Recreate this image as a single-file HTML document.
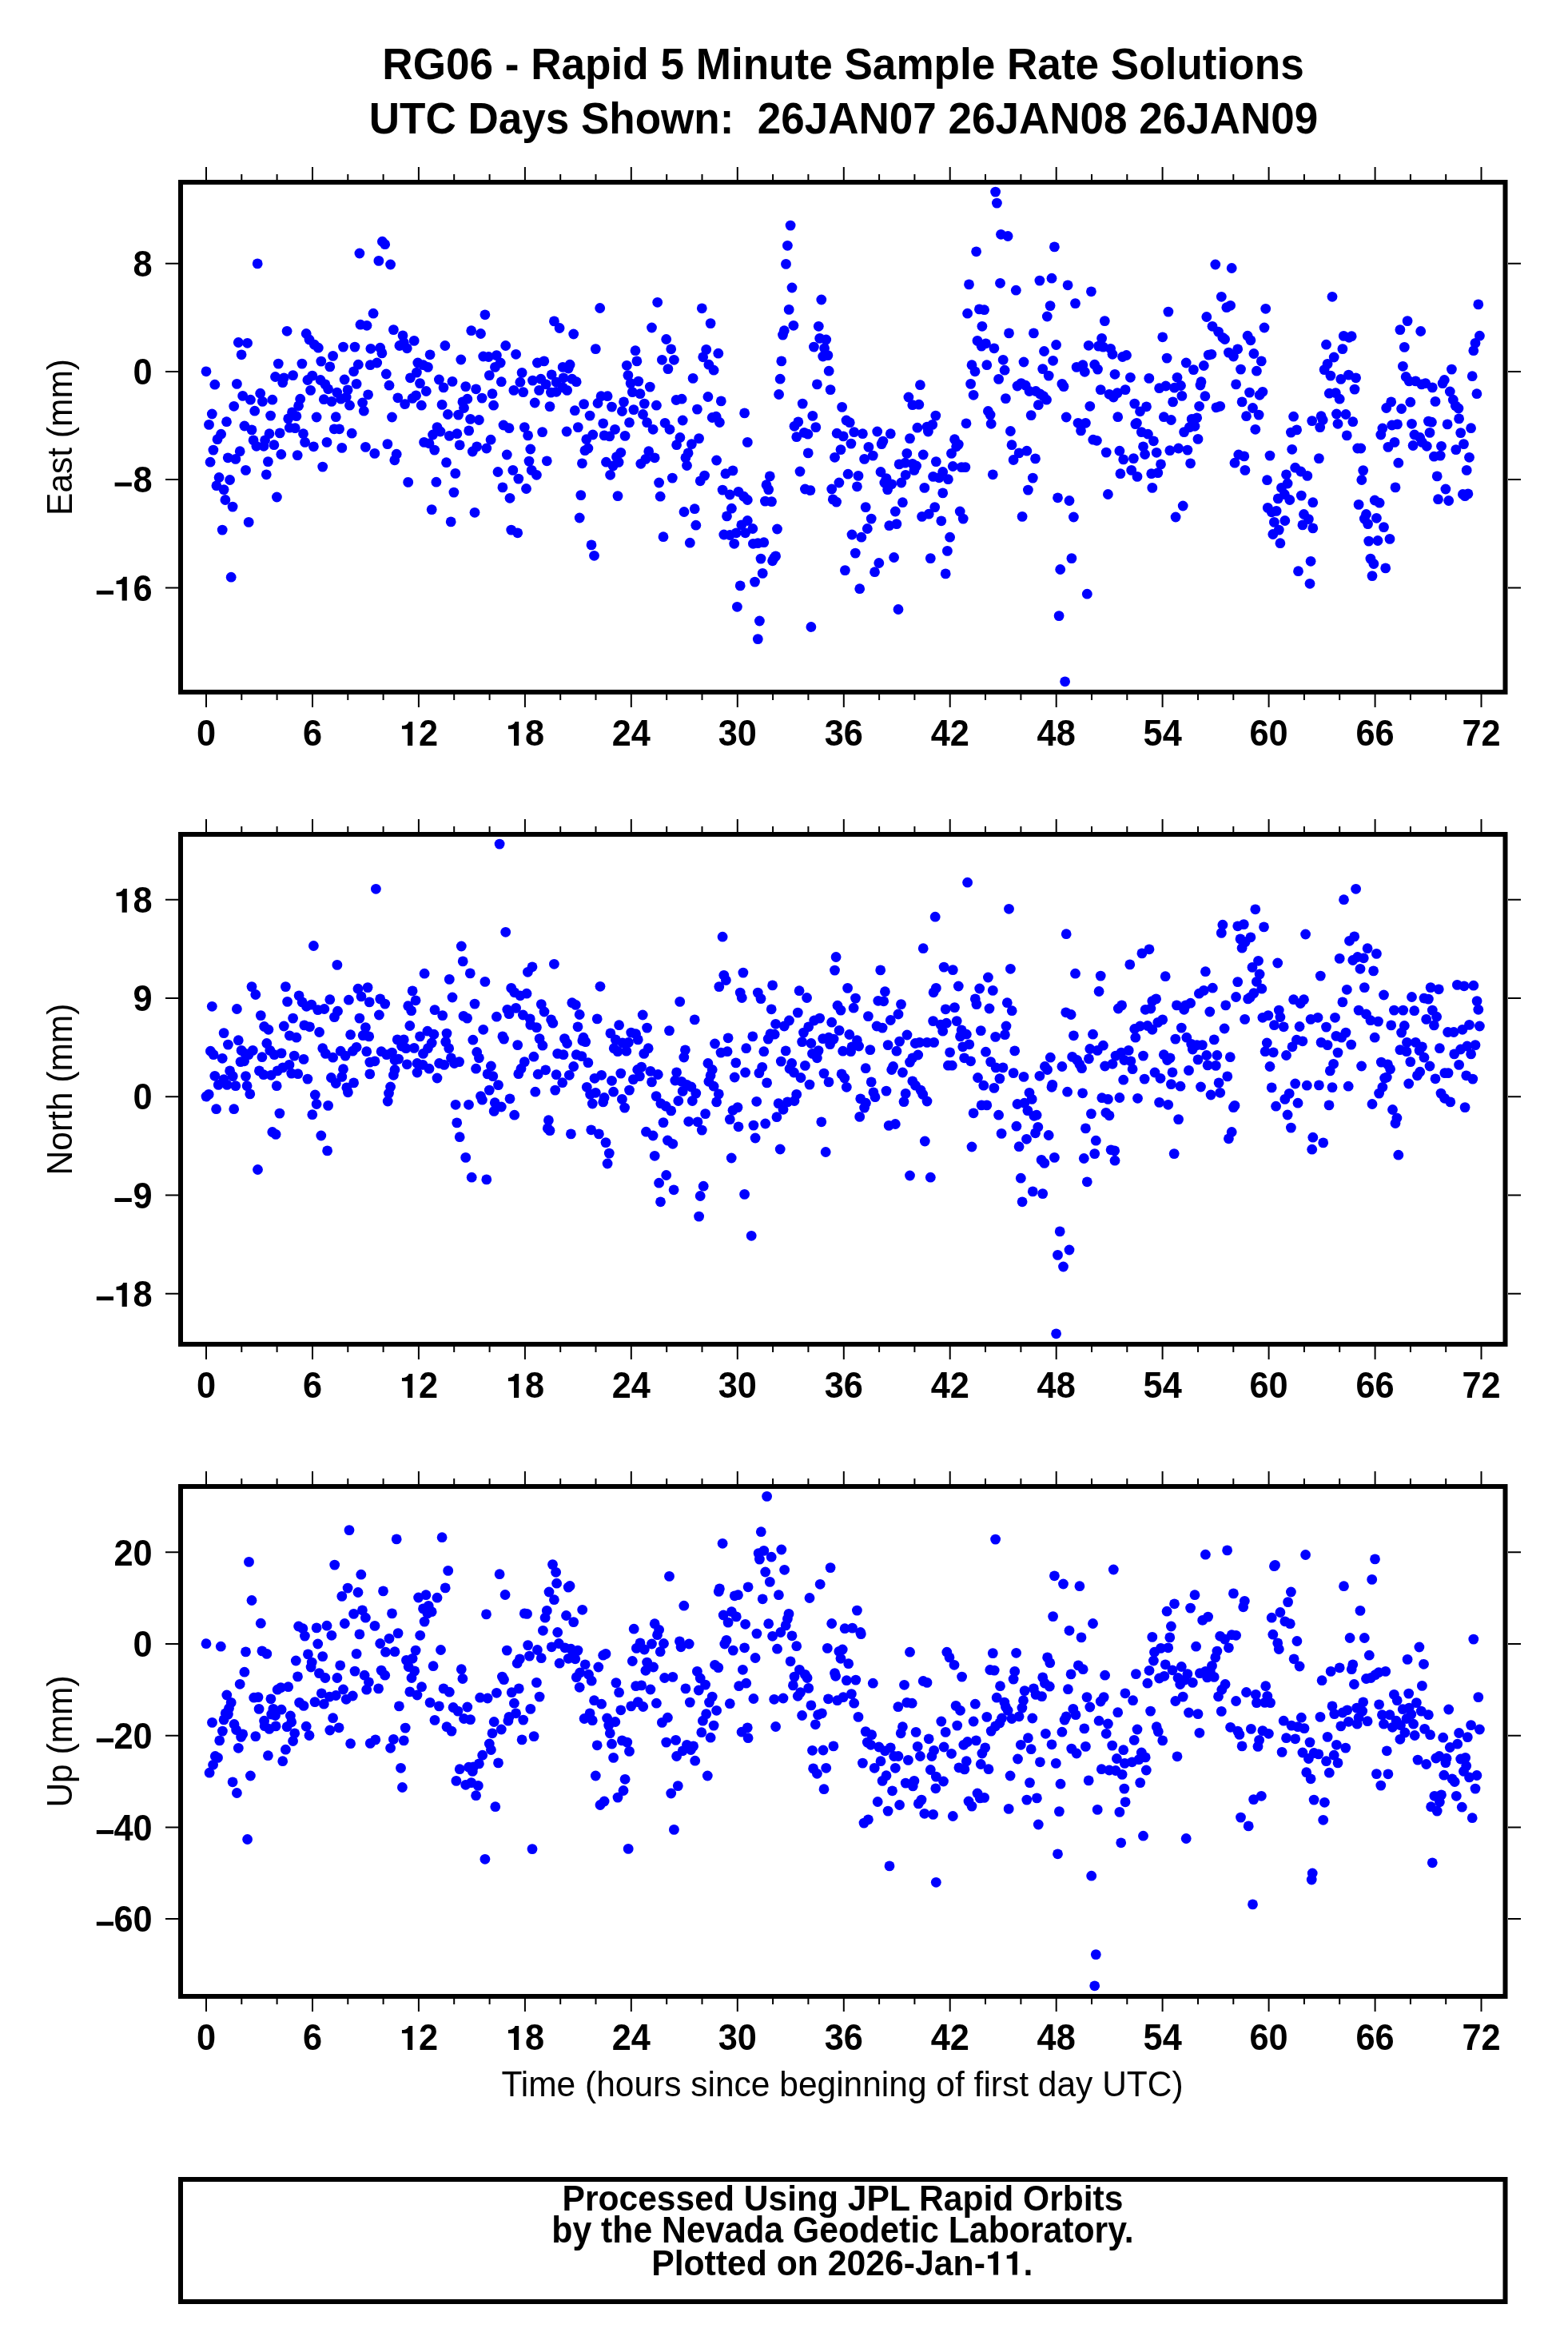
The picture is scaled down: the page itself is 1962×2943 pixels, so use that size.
<!DOCTYPE html><html><head><meta charset="utf-8"><style>html,body{margin:0;padding:0;background:#fff}svg{display:block;will-change:transform}text{font-family:"Liberation Sans",sans-serif}</style></head><body>
<svg width="1962" height="2943" viewBox="0 0 1962 2943">
<rect x="0" y="0" width="1962" height="2943" fill="#fff"/>
<text transform="translate(1055 98.9) scale(1 1.06)" font-size="53.1" font-weight="bold" text-anchor="middle">RG06 - Rapid 5 Minute Sample Rate Solutions</text>
<text transform="translate(1055.5 166.8) scale(1 1.06)" font-size="53.03" font-weight="bold" text-anchor="middle" xml:space="preserve">UTC Days Shown:  26JAN07 26JAN08 26JAN09</text>
<g fill="#0000ff"><circle cx="322.2" cy="329.9" r="6.4"/><circle cx="449.9" cy="317.0" r="6.4"/><circle cx="451.0" cy="406.2" r="6.4"/><circle cx="459.0" cy="407.3" r="6.4"/><circle cx="359.1" cy="414.3" r="6.4"/><circle cx="383.2" cy="417.5" r="6.4"/><circle cx="387.0" cy="425.0" r="6.4"/><circle cx="393.4" cy="431.2" r="6.4"/><circle cx="398.3" cy="435.2" r="6.4"/><circle cx="298.3" cy="428.5" r="6.4"/><circle cx="309.6" cy="429.3" r="6.4"/><circle cx="302.1" cy="443.8" r="6.4"/><circle cx="429.5" cy="434.1" r="6.4"/><circle cx="444.0" cy="434.1" r="6.4"/><circle cx="463.9" cy="436.3" r="6.4"/><circle cx="416.6" cy="445.4" r="6.4"/><circle cx="348.3" cy="455.1" r="6.4"/><circle cx="377.9" cy="455.1" r="6.4"/><circle cx="401.8" cy="452.1" r="6.4"/><circle cx="412.8" cy="458.9" r="6.4"/><circle cx="448.3" cy="456.2" r="6.4"/><circle cx="442.6" cy="464.8" r="6.4"/><circle cx="463.3" cy="456.7" r="6.4"/><circle cx="258.0" cy="464.8" r="6.4"/><circle cx="268.8" cy="481.2" r="6.4"/><circle cx="296.4" cy="480.4" r="6.4"/><circle cx="344.5" cy="471.5" r="6.4"/><circle cx="355.3" cy="472.8" r="6.4"/><circle cx="366.6" cy="469.6" r="6.4"/><circle cx="353.7" cy="478.7" r="6.4"/><circle cx="384.9" cy="475.5" r="6.4"/><circle cx="390.8" cy="470.1" r="6.4"/><circle cx="401.0" cy="475.5" r="6.4"/><circle cx="406.9" cy="480.9" r="6.4"/><circle cx="410.6" cy="486.8" r="6.4"/><circle cx="431.1" cy="475.0" r="6.4"/><circle cx="446.1" cy="480.4" r="6.4"/><circle cx="388.6" cy="488.4" r="6.4"/><circle cx="421.7" cy="491.1" r="6.4"/><circle cx="435.1" cy="487.9" r="6.4"/><circle cx="426.5" cy="499.2" r="6.4"/><circle cx="433.2" cy="497.0" r="6.4"/><circle cx="460.6" cy="493.8" r="6.4"/><circle cx="303.7" cy="495.4" r="6.4"/><circle cx="313.4" cy="500.2" r="6.4"/><circle cx="325.7" cy="492.2" r="6.4"/><circle cx="328.4" cy="502.4" r="6.4"/><circle cx="340.8" cy="500.2" r="6.4"/><circle cx="375.7" cy="499.2" r="6.4"/><circle cx="373.6" cy="507.8" r="6.4"/><circle cx="405.3" cy="499.7" r="6.4"/><circle cx="414.9" cy="502.4" r="6.4"/><circle cx="437.5" cy="507.2" r="6.4"/><circle cx="453.6" cy="504.0" r="6.4"/><circle cx="455.3" cy="514.2" r="6.4"/><circle cx="292.7" cy="508.3" r="6.4"/><circle cx="318.7" cy="514.2" r="6.4"/><circle cx="265.3" cy="518.0" r="6.4"/><circle cx="261.5" cy="531.4" r="6.4"/><circle cx="283.5" cy="527.7" r="6.4"/><circle cx="365.5" cy="515.8" r="6.4"/><circle cx="360.7" cy="523.9" r="6.4"/><circle cx="370.9" cy="520.7" r="6.4"/><circle cx="338.6" cy="520.1" r="6.4"/><circle cx="396.1" cy="522.0" r="6.4"/><circle cx="420.3" cy="521.7" r="6.4"/><circle cx="305.9" cy="533.0" r="6.4"/><circle cx="315.0" cy="537.9" r="6.4"/><circle cx="362.3" cy="535.2" r="6.4"/><circle cx="369.3" cy="535.7" r="6.4"/><circle cx="418.2" cy="536.8" r="6.4"/><circle cx="424.6" cy="536.8" r="6.4"/><circle cx="440.2" cy="542.2" r="6.4"/><circle cx="276.6" cy="543.2" r="6.4"/><circle cx="272.0" cy="549.7" r="6.4"/><circle cx="337.0" cy="542.7" r="6.4"/><circle cx="350.2" cy="541.9" r="6.4"/><circle cx="379.5" cy="542.7" r="6.4"/><circle cx="381.6" cy="553.4" r="6.4"/><circle cx="392.4" cy="558.8" r="6.4"/><circle cx="317.1" cy="550.8" r="6.4"/><circle cx="320.9" cy="558.3" r="6.4"/><circle cx="330.0" cy="558.3" r="6.4"/><circle cx="331.6" cy="550.8" r="6.4"/><circle cx="342.9" cy="556.7" r="6.4"/><circle cx="409.0" cy="553.4" r="6.4"/><circle cx="427.8" cy="560.4" r="6.4"/><circle cx="457.4" cy="559.4" r="6.4"/><circle cx="266.9" cy="563.1" r="6.4"/><circle cx="300.2" cy="564.7" r="6.4"/><circle cx="285.2" cy="572.8" r="6.4"/><circle cx="294.8" cy="574.4" r="6.4"/><circle cx="351.8" cy="568.5" r="6.4"/><circle cx="372.2" cy="569.6" r="6.4"/><circle cx="263.1" cy="578.2" r="6.4"/><circle cx="335.4" cy="577.6" r="6.4"/><circle cx="307.5" cy="588.4" r="6.4"/><circle cx="403.7" cy="584.1" r="6.4"/><circle cx="333.3" cy="593.8" r="6.4"/><circle cx="274.1" cy="597.5" r="6.4"/><circle cx="287.6" cy="600.5" r="6.4"/><circle cx="270.9" cy="607.7" r="6.4"/><circle cx="280.1" cy="612.6" r="6.4"/><circle cx="281.9" cy="625.5" r="6.4"/><circle cx="291.1" cy="634.1" r="6.4"/><circle cx="346.4" cy="622.0" r="6.4"/><circle cx="311.2" cy="653.4" r="6.4"/><circle cx="278.2" cy="663.1" r="6.4"/><circle cx="289.2" cy="722.2" r="6.4"/><circle cx="478.4" cy="302.2" r="6.4"/><circle cx="481.7" cy="305.7" r="6.4"/><circle cx="473.9" cy="326.4" r="6.4"/><circle cx="488.6" cy="331.0" r="6.4"/><circle cx="467.1" cy="392.2" r="6.4"/><circle cx="606.9" cy="393.8" r="6.4"/><circle cx="693.4" cy="401.9" r="6.4"/><circle cx="700.1" cy="410.5" r="6.4"/><circle cx="492.4" cy="412.6" r="6.4"/><circle cx="504.0" cy="419.9" r="6.4"/><circle cx="499.9" cy="432.5" r="6.4"/><circle cx="505.3" cy="428.5" r="6.4"/><circle cx="509.3" cy="435.8" r="6.4"/><circle cx="518.2" cy="426.4" r="6.4"/><circle cx="475.7" cy="435.2" r="6.4"/><circle cx="477.9" cy="441.9" r="6.4"/><circle cx="471.7" cy="454.0" r="6.4"/><circle cx="556.9" cy="432.5" r="6.4"/><circle cx="589.7" cy="413.7" r="6.4"/><circle cx="601.5" cy="417.5" r="6.4"/><circle cx="632.7" cy="432.5" r="6.4"/><circle cx="645.6" cy="443.3" r="6.4"/><circle cx="538.1" cy="443.8" r="6.4"/><circle cx="576.8" cy="450.0" r="6.4"/><circle cx="604.7" cy="446.0" r="6.4"/><circle cx="611.4" cy="446.5" r="6.4"/><circle cx="621.4" cy="444.6" r="6.4"/><circle cx="626.2" cy="454.0" r="6.4"/><circle cx="619.5" cy="459.4" r="6.4"/><circle cx="522.8" cy="454.0" r="6.4"/><circle cx="529.5" cy="456.7" r="6.4"/><circle cx="535.4" cy="459.4" r="6.4"/><circle cx="483.3" cy="468.0" r="6.4"/><circle cx="487.0" cy="482.2" r="6.4"/><circle cx="521.4" cy="466.1" r="6.4"/><circle cx="513.4" cy="472.8" r="6.4"/><circle cx="525.5" cy="479.6" r="6.4"/><circle cx="533.3" cy="489.5" r="6.4"/><circle cx="549.4" cy="475.0" r="6.4"/><circle cx="555.0" cy="484.9" r="6.4"/><circle cx="566.0" cy="477.4" r="6.4"/><circle cx="612.3" cy="469.6" r="6.4"/><circle cx="627.3" cy="477.7" r="6.4"/><circle cx="653.1" cy="466.4" r="6.4"/><circle cx="650.9" cy="478.2" r="6.4"/><circle cx="672.4" cy="454.0" r="6.4"/><circle cx="680.8" cy="451.9" r="6.4"/><circle cx="666.5" cy="476.1" r="6.4"/><circle cx="676.7" cy="474.2" r="6.4"/><circle cx="674.6" cy="488.4" r="6.4"/><circle cx="683.2" cy="480.9" r="6.4"/><circle cx="690.2" cy="468.8" r="6.4"/><circle cx="689.4" cy="491.1" r="6.4"/><circle cx="696.1" cy="478.2" r="6.4"/><circle cx="696.1" cy="490.3" r="6.4"/><circle cx="582.7" cy="483.6" r="6.4"/><circle cx="595.6" cy="486.8" r="6.4"/><circle cx="603.1" cy="498.1" r="6.4"/><circle cx="616.0" cy="492.7" r="6.4"/><circle cx="617.6" cy="507.2" r="6.4"/><circle cx="642.9" cy="488.4" r="6.4"/><circle cx="654.7" cy="490.6" r="6.4"/><circle cx="497.8" cy="497.8" r="6.4"/><circle cx="506.6" cy="505.6" r="6.4"/><circle cx="516.1" cy="498.4" r="6.4"/><circle cx="520.6" cy="494.9" r="6.4"/><circle cx="527.3" cy="507.2" r="6.4"/><circle cx="553.1" cy="506.4" r="6.4"/><circle cx="560.4" cy="518.5" r="6.4"/><circle cx="573.6" cy="519.1" r="6.4"/><circle cx="578.9" cy="502.9" r="6.4"/><circle cx="584.8" cy="499.2" r="6.4"/><circle cx="580.5" cy="510.5" r="6.4"/><circle cx="669.2" cy="504.0" r="6.4"/><circle cx="688.0" cy="508.6" r="6.4"/><circle cx="490.5" cy="522.0" r="6.4"/><circle cx="588.6" cy="524.4" r="6.4"/><circle cx="599.4" cy="525.5" r="6.4"/><circle cx="630.0" cy="532.0" r="6.4"/><circle cx="637.0" cy="535.7" r="6.4"/><circle cx="656.3" cy="534.6" r="6.4"/><circle cx="660.6" cy="544.9" r="6.4"/><circle cx="678.6" cy="540.6" r="6.4"/><circle cx="547.0" cy="534.6" r="6.4"/><circle cx="541.6" cy="544.0" r="6.4"/><circle cx="551.0" cy="540.0" r="6.4"/><circle cx="562.3" cy="545.4" r="6.4"/><circle cx="571.9" cy="542.7" r="6.4"/><circle cx="586.7" cy="538.9" r="6.4"/><circle cx="530.6" cy="553.4" r="6.4"/><circle cx="537.0" cy="554.8" r="6.4"/><circle cx="543.7" cy="563.1" r="6.4"/><circle cx="575.2" cy="556.9" r="6.4"/><circle cx="614.1" cy="550.2" r="6.4"/><circle cx="608.8" cy="561.0" r="6.4"/><circle cx="596.7" cy="558.8" r="6.4"/><circle cx="591.3" cy="565.0" r="6.4"/><circle cx="484.9" cy="555.6" r="6.4"/><circle cx="468.8" cy="567.4" r="6.4"/><circle cx="496.2" cy="568.2" r="6.4"/><circle cx="493.8" cy="575.8" r="6.4"/><circle cx="634.3" cy="569.0" r="6.4"/><circle cx="663.8" cy="562.0" r="6.4"/><circle cx="558.5" cy="578.7" r="6.4"/><circle cx="569.8" cy="592.4" r="6.4"/><circle cx="662.0" cy="577.1" r="6.4"/><circle cx="684.3" cy="576.8" r="6.4"/><circle cx="623.0" cy="590.5" r="6.4"/><circle cx="641.8" cy="588.4" r="6.4"/><circle cx="648.8" cy="599.1" r="6.4"/><circle cx="665.2" cy="588.4" r="6.4"/><circle cx="671.4" cy="594.3" r="6.4"/><circle cx="510.7" cy="603.4" r="6.4"/><circle cx="545.9" cy="603.2" r="6.4"/><circle cx="567.9" cy="616.1" r="6.4"/><circle cx="628.9" cy="609.9" r="6.4"/><circle cx="658.5" cy="611.5" r="6.4"/><circle cx="638.0" cy="623.3" r="6.4"/><circle cx="540.2" cy="637.6" r="6.4"/><circle cx="594.0" cy="641.3" r="6.4"/><circle cx="564.2" cy="652.9" r="6.4"/><circle cx="639.7" cy="663.1" r="6.4"/><circle cx="647.7" cy="666.8" r="6.4"/><circle cx="750.7" cy="385.5" r="6.4"/><circle cx="822.7" cy="378.3" r="6.4"/><circle cx="878.3" cy="385.8" r="6.4"/><circle cx="717.7" cy="418.0" r="6.4"/><circle cx="815.5" cy="410.0" r="6.4"/><circle cx="889.1" cy="404.6" r="6.4"/><circle cx="745.3" cy="436.6" r="6.4"/><circle cx="833.7" cy="424.5" r="6.4"/><circle cx="839.7" cy="436.8" r="6.4"/><circle cx="828.4" cy="450.3" r="6.4"/><circle cx="843.4" cy="450.3" r="6.4"/><circle cx="835.9" cy="461.6" r="6.4"/><circle cx="795.0" cy="438.7" r="6.4"/><circle cx="796.9" cy="451.9" r="6.4"/><circle cx="784.3" cy="457.3" r="6.4"/><circle cx="785.9" cy="469.6" r="6.4"/><circle cx="789.1" cy="479.6" r="6.4"/><circle cx="798.8" cy="477.1" r="6.4"/><circle cx="791.3" cy="490.6" r="6.4"/><circle cx="801.0" cy="492.7" r="6.4"/><circle cx="813.3" cy="484.1" r="6.4"/><circle cx="883.7" cy="437.4" r="6.4"/><circle cx="879.7" cy="446.8" r="6.4"/><circle cx="898.8" cy="442.2" r="6.4"/><circle cx="886.9" cy="456.2" r="6.4"/><circle cx="893.1" cy="463.2" r="6.4"/><circle cx="713.1" cy="456.2" r="6.4"/><circle cx="711.2" cy="461.0" r="6.4"/><circle cx="704.2" cy="459.4" r="6.4"/><circle cx="705.0" cy="472.8" r="6.4"/><circle cx="715.8" cy="474.2" r="6.4"/><circle cx="721.2" cy="477.7" r="6.4"/><circle cx="704.2" cy="484.9" r="6.4"/><circle cx="709.6" cy="488.4" r="6.4"/><circle cx="867.1" cy="473.4" r="6.4"/><circle cx="885.9" cy="496.5" r="6.4"/><circle cx="902.3" cy="501.9" r="6.4"/><circle cx="846.1" cy="500.5" r="6.4"/><circle cx="853.1" cy="499.2" r="6.4"/><circle cx="752.1" cy="495.7" r="6.4"/><circle cx="760.1" cy="495.7" r="6.4"/><circle cx="748.0" cy="504.5" r="6.4"/><circle cx="730.6" cy="505.6" r="6.4"/><circle cx="719.3" cy="513.7" r="6.4"/><circle cx="738.1" cy="520.1" r="6.4"/><circle cx="765.5" cy="509.1" r="6.4"/><circle cx="780.5" cy="502.9" r="6.4"/><circle cx="778.4" cy="514.5" r="6.4"/><circle cx="792.9" cy="512.6" r="6.4"/><circle cx="806.3" cy="505.1" r="6.4"/><circle cx="821.4" cy="507.2" r="6.4"/><circle cx="804.5" cy="518.5" r="6.4"/><circle cx="872.4" cy="512.1" r="6.4"/><circle cx="931.6" cy="516.9" r="6.4"/><circle cx="854.2" cy="526.0" r="6.4"/><circle cx="891.2" cy="522.5" r="6.4"/><circle cx="896.1" cy="521.2" r="6.4"/><circle cx="900.4" cy="528.5" r="6.4"/><circle cx="754.7" cy="529.8" r="6.4"/><circle cx="787.5" cy="528.7" r="6.4"/><circle cx="809.6" cy="528.7" r="6.4"/><circle cx="817.1" cy="537.3" r="6.4"/><circle cx="832.1" cy="529.3" r="6.4"/><circle cx="838.0" cy="537.3" r="6.4"/><circle cx="709.1" cy="540.0" r="6.4"/><circle cx="723.3" cy="534.6" r="6.4"/><circle cx="741.8" cy="544.0" r="6.4"/><circle cx="733.8" cy="549.7" r="6.4"/><circle cx="756.1" cy="544.9" r="6.4"/><circle cx="762.8" cy="545.9" r="6.4"/><circle cx="769.5" cy="537.3" r="6.4"/><circle cx="782.1" cy="545.4" r="6.4"/><circle cx="850.9" cy="547.5" r="6.4"/><circle cx="846.6" cy="556.7" r="6.4"/><circle cx="865.4" cy="555.6" r="6.4"/><circle cx="874.6" cy="548.6" r="6.4"/><circle cx="935.3" cy="553.4" r="6.4"/><circle cx="735.9" cy="561.0" r="6.4"/><circle cx="731.9" cy="563.7" r="6.4"/><circle cx="776.8" cy="566.3" r="6.4"/><circle cx="771.4" cy="571.7" r="6.4"/><circle cx="774.1" cy="578.4" r="6.4"/><circle cx="758.5" cy="578.2" r="6.4"/><circle cx="767.1" cy="583.0" r="6.4"/><circle cx="763.6" cy="594.3" r="6.4"/><circle cx="811.7" cy="564.7" r="6.4"/><circle cx="819.2" cy="572.8" r="6.4"/><circle cx="807.9" cy="574.4" r="6.4"/><circle cx="801.8" cy="580.3" r="6.4"/><circle cx="861.1" cy="566.9" r="6.4"/><circle cx="857.9" cy="572.8" r="6.4"/><circle cx="859.5" cy="582.5" r="6.4"/><circle cx="728.4" cy="579.8" r="6.4"/><circle cx="896.6" cy="576.0" r="6.4"/><circle cx="907.9" cy="592.7" r="6.4"/><circle cx="917.0" cy="588.9" r="6.4"/><circle cx="881.6" cy="595.1" r="6.4"/><circle cx="876.2" cy="601.8" r="6.4"/><circle cx="824.6" cy="604.0" r="6.4"/><circle cx="841.3" cy="598.1" r="6.4"/><circle cx="726.8" cy="619.6" r="6.4"/><circle cx="773.0" cy="620.6" r="6.4"/><circle cx="826.2" cy="621.2" r="6.4"/><circle cx="904.1" cy="613.1" r="6.4"/><circle cx="913.3" cy="619.0" r="6.4"/><circle cx="924.0" cy="615.3" r="6.4"/><circle cx="930.7" cy="621.2" r="6.4"/><circle cx="935.3" cy="625.5" r="6.4"/><circle cx="915.4" cy="636.2" r="6.4"/><circle cx="909.5" cy="645.9" r="6.4"/><circle cx="856.0" cy="640.5" r="6.4"/><circle cx="869.2" cy="636.7" r="6.4"/><circle cx="725.2" cy="648.0" r="6.4"/><circle cx="870.8" cy="657.2" r="6.4"/><circle cx="927.8" cy="656.9" r="6.4"/><circle cx="935.3" cy="651.5" r="6.4"/><circle cx="905.8" cy="669.0" r="6.4"/><circle cx="913.3" cy="669.5" r="6.4"/><circle cx="921.3" cy="666.8" r="6.4"/><circle cx="932.6" cy="666.8" r="6.4"/><circle cx="918.7" cy="680.3" r="6.4"/><circle cx="830.0" cy="671.7" r="6.4"/><circle cx="863.3" cy="679.2" r="6.4"/><circle cx="740.0" cy="681.9" r="6.4"/><circle cx="743.5" cy="695.3" r="6.4"/><circle cx="926.2" cy="732.9" r="6.4"/><circle cx="922.4" cy="759.3" r="6.4"/><circle cx="989.1" cy="282.1" r="6.4"/><circle cx="985.4" cy="307.3" r="6.4"/><circle cx="983.5" cy="330.4" r="6.4"/><circle cx="991.0" cy="360.0" r="6.4"/><circle cx="987.2" cy="387.4" r="6.4"/><circle cx="992.9" cy="407.3" r="6.4"/><circle cx="1027.8" cy="375.0" r="6.4"/><circle cx="1024.3" cy="408.3" r="6.4"/><circle cx="981.3" cy="413.7" r="6.4"/><circle cx="979.5" cy="419.1" r="6.4"/><circle cx="1025.7" cy="423.4" r="6.4"/><circle cx="1033.7" cy="425.0" r="6.4"/><circle cx="1018.4" cy="434.1" r="6.4"/><circle cx="1031.6" cy="435.8" r="6.4"/><circle cx="1029.7" cy="446.0" r="6.4"/><circle cx="1035.9" cy="444.6" r="6.4"/><circle cx="1037.2" cy="464.2" r="6.4"/><circle cx="977.8" cy="451.9" r="6.4"/><circle cx="976.2" cy="474.2" r="6.4"/><circle cx="974.6" cy="493.5" r="6.4"/><circle cx="1022.4" cy="480.9" r="6.4"/><circle cx="1039.1" cy="487.6" r="6.4"/><circle cx="1151.4" cy="481.7" r="6.4"/><circle cx="1136.9" cy="497.0" r="6.4"/><circle cx="1141.8" cy="506.7" r="6.4"/><circle cx="1149.8" cy="506.2" r="6.4"/><circle cx="1004.2" cy="505.1" r="6.4"/><circle cx="1053.6" cy="509.4" r="6.4"/><circle cx="1016.8" cy="520.4" r="6.4"/><circle cx="1020.8" cy="534.6" r="6.4"/><circle cx="998.8" cy="527.9" r="6.4"/><circle cx="994.0" cy="533.3" r="6.4"/><circle cx="996.7" cy="546.7" r="6.4"/><circle cx="1006.3" cy="541.4" r="6.4"/><circle cx="1010.9" cy="543.2" r="6.4"/><circle cx="1059.0" cy="526.0" r="6.4"/><circle cx="1063.3" cy="528.7" r="6.4"/><circle cx="1047.2" cy="542.2" r="6.4"/><circle cx="1055.2" cy="545.9" r="6.4"/><circle cx="1068.7" cy="540.6" r="6.4"/><circle cx="1079.4" cy="542.7" r="6.4"/><circle cx="1064.9" cy="555.1" r="6.4"/><circle cx="1097.7" cy="540.0" r="6.4"/><circle cx="1114.3" cy="542.7" r="6.4"/><circle cx="1104.9" cy="552.1" r="6.4"/><circle cx="1103.1" cy="555.6" r="6.4"/><circle cx="1170.8" cy="520.1" r="6.4"/><circle cx="1147.9" cy="535.2" r="6.4"/><circle cx="1160.0" cy="534.1" r="6.4"/><circle cx="1166.7" cy="531.4" r="6.4"/><circle cx="1161.4" cy="540.0" r="6.4"/><circle cx="1138.5" cy="548.6" r="6.4"/><circle cx="1086.9" cy="559.4" r="6.4"/><circle cx="1092.3" cy="570.1" r="6.4"/><circle cx="1081.6" cy="574.4" r="6.4"/><circle cx="1052.0" cy="562.6" r="6.4"/><circle cx="1044.5" cy="572.3" r="6.4"/><circle cx="1011.2" cy="566.9" r="6.4"/><circle cx="1134.8" cy="567.4" r="6.4"/><circle cx="1155.2" cy="569.0" r="6.4"/><circle cx="1171.3" cy="577.6" r="6.4"/><circle cx="1125.1" cy="580.9" r="6.4"/><circle cx="1132.6" cy="579.2" r="6.4"/><circle cx="1141.8" cy="580.3" r="6.4"/><circle cx="1146.6" cy="583.0" r="6.4"/><circle cx="1143.9" cy="588.4" r="6.4"/><circle cx="1001.0" cy="590.0" r="6.4"/><circle cx="1061.1" cy="593.2" r="6.4"/><circle cx="1074.0" cy="595.4" r="6.4"/><circle cx="1102.0" cy="590.5" r="6.4"/><circle cx="1109.0" cy="598.6" r="6.4"/><circle cx="1106.8" cy="604.0" r="6.4"/><circle cx="1115.7" cy="605.8" r="6.4"/><circle cx="1110.6" cy="612.6" r="6.4"/><circle cx="1127.8" cy="604.0" r="6.4"/><circle cx="1133.2" cy="594.3" r="6.4"/><circle cx="963.3" cy="595.9" r="6.4"/><circle cx="959.0" cy="606.7" r="6.4"/><circle cx="961.7" cy="612.6" r="6.4"/><circle cx="1007.4" cy="612.0" r="6.4"/><circle cx="1013.9" cy="613.6" r="6.4"/><circle cx="1049.9" cy="604.0" r="6.4"/><circle cx="1040.7" cy="612.0" r="6.4"/><circle cx="1072.4" cy="608.8" r="6.4"/><circle cx="1156.8" cy="610.4" r="6.4"/><circle cx="1167.6" cy="596.4" r="6.4"/><circle cx="957.4" cy="627.1" r="6.4"/><circle cx="965.5" cy="627.6" r="6.4"/><circle cx="1042.3" cy="624.9" r="6.4"/><circle cx="1046.6" cy="628.1" r="6.4"/><circle cx="1083.2" cy="634.6" r="6.4"/><circle cx="1090.2" cy="649.1" r="6.4"/><circle cx="1085.3" cy="661.5" r="6.4"/><circle cx="1129.4" cy="628.7" r="6.4"/><circle cx="1120.3" cy="640.0" r="6.4"/><circle cx="1121.9" cy="655.6" r="6.4"/><circle cx="1112.7" cy="657.7" r="6.4"/><circle cx="1169.7" cy="634.6" r="6.4"/><circle cx="1162.2" cy="643.2" r="6.4"/><circle cx="1153.6" cy="646.4" r="6.4"/><circle cx="941.8" cy="661.5" r="6.4"/><circle cx="972.5" cy="662.0" r="6.4"/><circle cx="1066.0" cy="669.0" r="6.4"/><circle cx="1077.8" cy="672.2" r="6.4"/><circle cx="942.4" cy="680.3" r="6.4"/><circle cx="948.3" cy="679.7" r="6.4"/><circle cx="955.8" cy="678.7" r="6.4"/><circle cx="952.0" cy="699.1" r="6.4"/><circle cx="968.7" cy="698.0" r="6.4"/><circle cx="966.6" cy="701.8" r="6.4"/><circle cx="970.6" cy="695.9" r="6.4"/><circle cx="1070.3" cy="692.1" r="6.4"/><circle cx="1118.6" cy="697.5" r="6.4"/><circle cx="1164.3" cy="698.6" r="6.4"/><circle cx="954.2" cy="717.4" r="6.4"/><circle cx="944.5" cy="728.1" r="6.4"/><circle cx="1057.4" cy="713.6" r="6.4"/><circle cx="1099.8" cy="704.5" r="6.4"/><circle cx="1094.5" cy="715.7" r="6.4"/><circle cx="1075.7" cy="736.7" r="6.4"/><circle cx="1124.0" cy="762.5" r="6.4"/><circle cx="950.4" cy="777.0" r="6.4"/><circle cx="948.3" cy="799.6" r="6.4"/><circle cx="1014.9" cy="784.5" r="6.4"/><circle cx="1245.6" cy="240.1" r="6.4"/><circle cx="1247.4" cy="254.1" r="6.4"/><circle cx="1252.5" cy="293.3" r="6.4"/><circle cx="1261.1" cy="295.5" r="6.4"/><circle cx="1221.6" cy="314.8" r="6.4"/><circle cx="1319.4" cy="308.9" r="6.4"/><circle cx="1212.5" cy="355.9" r="6.4"/><circle cx="1251.5" cy="354.3" r="6.4"/><circle cx="1271.3" cy="363.2" r="6.4"/><circle cx="1300.9" cy="351.1" r="6.4"/><circle cx="1316.0" cy="348.2" r="6.4"/><circle cx="1336.1" cy="356.8" r="6.4"/><circle cx="1365.4" cy="364.8" r="6.4"/><circle cx="1314.1" cy="382.6" r="6.4"/><circle cx="1310.3" cy="396.0" r="6.4"/><circle cx="1345.5" cy="379.6" r="6.4"/><circle cx="1210.6" cy="392.2" r="6.4"/><circle cx="1225.4" cy="386.9" r="6.4"/><circle cx="1231.6" cy="387.7" r="6.4"/><circle cx="1228.9" cy="408.3" r="6.4"/><circle cx="1262.5" cy="416.9" r="6.4"/><circle cx="1293.4" cy="416.9" r="6.4"/><circle cx="1382.3" cy="401.6" r="6.4"/><circle cx="1223.0" cy="426.4" r="6.4"/><circle cx="1228.1" cy="433.1" r="6.4"/><circle cx="1233.5" cy="429.8" r="6.4"/><circle cx="1243.9" cy="435.8" r="6.4"/><circle cx="1306.5" cy="439.5" r="6.4"/><circle cx="1321.6" cy="431.5" r="6.4"/><circle cx="1317.6" cy="451.3" r="6.4"/><circle cx="1362.2" cy="432.3" r="6.4"/><circle cx="1378.6" cy="423.4" r="6.4"/><circle cx="1374.5" cy="433.1" r="6.4"/><circle cx="1380.4" cy="434.1" r="6.4"/><circle cx="1389.6" cy="436.3" r="6.4"/><circle cx="1392.0" cy="443.3" r="6.4"/><circle cx="1404.6" cy="446.5" r="6.4"/><circle cx="1255.2" cy="450.3" r="6.4"/><circle cx="1257.1" cy="463.2" r="6.4"/><circle cx="1249.6" cy="474.4" r="6.4"/><circle cx="1234.8" cy="456.7" r="6.4"/><circle cx="1216.0" cy="456.7" r="6.4"/><circle cx="1220.0" cy="464.8" r="6.4"/><circle cx="1281.0" cy="453.0" r="6.4"/><circle cx="1304.7" cy="461.6" r="6.4"/><circle cx="1312.2" cy="470.1" r="6.4"/><circle cx="1347.1" cy="459.4" r="6.4"/><circle cx="1354.9" cy="456.7" r="6.4"/><circle cx="1357.3" cy="465.3" r="6.4"/><circle cx="1369.7" cy="456.2" r="6.4"/><circle cx="1373.5" cy="462.1" r="6.4"/><circle cx="1395.0" cy="468.3" r="6.4"/><circle cx="1214.6" cy="480.4" r="6.4"/><circle cx="1218.1" cy="494.3" r="6.4"/><circle cx="1273.0" cy="483.0" r="6.4"/><circle cx="1277.8" cy="479.6" r="6.4"/><circle cx="1283.2" cy="482.2" r="6.4"/><circle cx="1288.0" cy="489.5" r="6.4"/><circle cx="1296.1" cy="489.5" r="6.4"/><circle cx="1301.4" cy="493.0" r="6.4"/><circle cx="1305.7" cy="495.7" r="6.4"/><circle cx="1309.5" cy="500.2" r="6.4"/><circle cx="1299.3" cy="506.7" r="6.4"/><circle cx="1328.9" cy="480.4" r="6.4"/><circle cx="1331.0" cy="483.6" r="6.4"/><circle cx="1377.2" cy="487.6" r="6.4"/><circle cx="1388.0" cy="493.3" r="6.4"/><circle cx="1393.3" cy="497.0" r="6.4"/><circle cx="1398.2" cy="491.6" r="6.4"/><circle cx="1408.1" cy="487.6" r="6.4"/><circle cx="1258.4" cy="498.6" r="6.4"/><circle cx="1363.8" cy="508.3" r="6.4"/><circle cx="1236.4" cy="514.5" r="6.4"/><circle cx="1239.1" cy="519.1" r="6.4"/><circle cx="1240.2" cy="530.3" r="6.4"/><circle cx="1290.2" cy="519.6" r="6.4"/><circle cx="1334.2" cy="522.0" r="6.4"/><circle cx="1398.7" cy="521.7" r="6.4"/><circle cx="1209.0" cy="529.8" r="6.4"/><circle cx="1349.0" cy="529.3" r="6.4"/><circle cx="1358.4" cy="529.3" r="6.4"/><circle cx="1352.5" cy="538.9" r="6.4"/><circle cx="1264.4" cy="539.5" r="6.4"/><circle cx="1194.5" cy="549.7" r="6.4"/><circle cx="1199.3" cy="556.1" r="6.4"/><circle cx="1196.6" cy="558.8" r="6.4"/><circle cx="1190.5" cy="567.4" r="6.4"/><circle cx="1266.0" cy="556.7" r="6.4"/><circle cx="1275.1" cy="566.9" r="6.4"/><circle cx="1268.1" cy="575.5" r="6.4"/><circle cx="1284.8" cy="564.2" r="6.4"/><circle cx="1295.5" cy="573.9" r="6.4"/><circle cx="1367.8" cy="550.2" r="6.4"/><circle cx="1372.4" cy="551.3" r="6.4"/><circle cx="1384.2" cy="566.1" r="6.4"/><circle cx="1400.9" cy="564.2" r="6.4"/><circle cx="1405.7" cy="574.9" r="6.4"/><circle cx="1192.3" cy="583.5" r="6.4"/><circle cx="1203.1" cy="584.6" r="6.4"/><circle cx="1207.9" cy="584.6" r="6.4"/><circle cx="1179.7" cy="590.5" r="6.4"/><circle cx="1175.1" cy="597.8" r="6.4"/><circle cx="1186.4" cy="599.7" r="6.4"/><circle cx="1242.3" cy="593.8" r="6.4"/><circle cx="1292.3" cy="598.1" r="6.4"/><circle cx="1401.9" cy="592.7" r="6.4"/><circle cx="1179.7" cy="616.9" r="6.4"/><circle cx="1286.4" cy="613.1" r="6.4"/><circle cx="1323.5" cy="622.8" r="6.4"/><circle cx="1338.0" cy="626.5" r="6.4"/><circle cx="1386.4" cy="618.5" r="6.4"/><circle cx="1201.2" cy="640.0" r="6.4"/><circle cx="1205.2" cy="649.1" r="6.4"/><circle cx="1177.8" cy="651.8" r="6.4"/><circle cx="1279.1" cy="646.4" r="6.4"/><circle cx="1343.4" cy="647.0" r="6.4"/><circle cx="1188.6" cy="672.2" r="6.4"/><circle cx="1185.4" cy="689.4" r="6.4"/><circle cx="1340.9" cy="698.6" r="6.4"/><circle cx="1326.7" cy="712.5" r="6.4"/><circle cx="1183.2" cy="717.9" r="6.4"/><circle cx="1360.3" cy="743.2" r="6.4"/><circle cx="1325.1" cy="770.6" r="6.4"/><circle cx="1332.6" cy="852.8" r="6.4"/><circle cx="1520.8" cy="331.0" r="6.4"/><circle cx="1541.2" cy="335.5" r="6.4"/><circle cx="1528.3" cy="371.3" r="6.4"/><circle cx="1534.8" cy="384.7" r="6.4"/><circle cx="1539.6" cy="382.3" r="6.4"/><circle cx="1461.9" cy="390.1" r="6.4"/><circle cx="1583.7" cy="386.3" r="6.4"/><circle cx="1582.0" cy="410.0" r="6.4"/><circle cx="1509.8" cy="396.5" r="6.4"/><circle cx="1517.0" cy="408.3" r="6.4"/><circle cx="1524.5" cy="415.1" r="6.4"/><circle cx="1529.9" cy="422.3" r="6.4"/><circle cx="1532.6" cy="424.5" r="6.4"/><circle cx="1454.7" cy="421.8" r="6.4"/><circle cx="1561.1" cy="420.2" r="6.4"/><circle cx="1564.9" cy="425.8" r="6.4"/><circle cx="1460.1" cy="448.1" r="6.4"/><circle cx="1484.2" cy="454.0" r="6.4"/><circle cx="1493.4" cy="462.6" r="6.4"/><circle cx="1506.3" cy="457.5" r="6.4"/><circle cx="1512.2" cy="444.1" r="6.4"/><circle cx="1515.9" cy="443.3" r="6.4"/><circle cx="1537.4" cy="441.1" r="6.4"/><circle cx="1543.4" cy="446.0" r="6.4"/><circle cx="1548.7" cy="436.8" r="6.4"/><circle cx="1568.9" cy="442.5" r="6.4"/><circle cx="1578.3" cy="451.9" r="6.4"/><circle cx="1572.4" cy="464.2" r="6.4"/><circle cx="1552.5" cy="462.1" r="6.4"/><circle cx="1414.4" cy="472.3" r="6.4"/><circle cx="1437.8" cy="473.4" r="6.4"/><circle cx="1473.0" cy="472.3" r="6.4"/><circle cx="1477.5" cy="482.5" r="6.4"/><circle cx="1469.5" cy="485.2" r="6.4"/><circle cx="1450.6" cy="485.7" r="6.4"/><circle cx="1458.7" cy="483.0" r="6.4"/><circle cx="1503.0" cy="477.7" r="6.4"/><circle cx="1502.0" cy="482.0" r="6.4"/><circle cx="1546.6" cy="480.9" r="6.4"/><circle cx="1478.9" cy="495.4" r="6.4"/><circle cx="1467.6" cy="502.9" r="6.4"/><circle cx="1507.9" cy="495.7" r="6.4"/><circle cx="1563.5" cy="491.1" r="6.4"/><circle cx="1576.1" cy="494.3" r="6.4"/><circle cx="1579.9" cy="490.3" r="6.4"/><circle cx="1419.7" cy="505.1" r="6.4"/><circle cx="1434.5" cy="508.8" r="6.4"/><circle cx="1426.5" cy="514.8" r="6.4"/><circle cx="1500.6" cy="508.3" r="6.4"/><circle cx="1521.9" cy="509.9" r="6.4"/><circle cx="1526.7" cy="508.3" r="6.4"/><circle cx="1554.1" cy="502.9" r="6.4"/><circle cx="1567.5" cy="510.5" r="6.4"/><circle cx="1575.1" cy="519.1" r="6.4"/><circle cx="1559.5" cy="520.7" r="6.4"/><circle cx="1618.6" cy="521.2" r="6.4"/><circle cx="1641.7" cy="526.6" r="6.4"/><circle cx="1456.3" cy="521.7" r="6.4"/><circle cx="1465.4" cy="525.5" r="6.4"/><circle cx="1491.2" cy="524.4" r="6.4"/><circle cx="1497.7" cy="522.8" r="6.4"/><circle cx="1495.0" cy="533.3" r="6.4"/><circle cx="1488.3" cy="534.6" r="6.4"/><circle cx="1481.6" cy="540.6" r="6.4"/><circle cx="1422.4" cy="529.3" r="6.4"/><circle cx="1420.8" cy="530.6" r="6.4"/><circle cx="1428.3" cy="540.6" r="6.4"/><circle cx="1436.4" cy="543.2" r="6.4"/><circle cx="1443.4" cy="551.8" r="6.4"/><circle cx="1570.8" cy="537.3" r="6.4"/><circle cx="1615.4" cy="541.1" r="6.4"/><circle cx="1622.6" cy="537.9" r="6.4"/><circle cx="1499.0" cy="549.4" r="6.4"/><circle cx="1430.5" cy="558.8" r="6.4"/><circle cx="1432.6" cy="568.5" r="6.4"/><circle cx="1447.2" cy="566.3" r="6.4"/><circle cx="1463.8" cy="563.7" r="6.4"/><circle cx="1474.6" cy="561.0" r="6.4"/><circle cx="1485.9" cy="563.1" r="6.4"/><circle cx="1616.7" cy="562.3" r="6.4"/><circle cx="1549.8" cy="569.0" r="6.4"/><circle cx="1556.8" cy="570.9" r="6.4"/><circle cx="1545.0" cy="579.2" r="6.4"/><circle cx="1557.9" cy="588.4" r="6.4"/><circle cx="1589.0" cy="570.1" r="6.4"/><circle cx="1418.4" cy="573.6" r="6.4"/><circle cx="1415.7" cy="588.4" r="6.4"/><circle cx="1423.0" cy="596.4" r="6.4"/><circle cx="1452.5" cy="580.9" r="6.4"/><circle cx="1448.8" cy="591.6" r="6.4"/><circle cx="1440.7" cy="592.7" r="6.4"/><circle cx="1489.6" cy="579.8" r="6.4"/><circle cx="1441.8" cy="610.4" r="6.4"/><circle cx="1620.7" cy="585.2" r="6.4"/><circle cx="1627.7" cy="590.0" r="6.4"/><circle cx="1635.8" cy="595.4" r="6.4"/><circle cx="1609.5" cy="593.8" r="6.4"/><circle cx="1611.1" cy="605.0" r="6.4"/><circle cx="1603.5" cy="610.4" r="6.4"/><circle cx="1607.3" cy="618.5" r="6.4"/><circle cx="1599.2" cy="623.9" r="6.4"/><circle cx="1613.8" cy="625.5" r="6.4"/><circle cx="1585.5" cy="600.7" r="6.4"/><circle cx="1628.3" cy="620.1" r="6.4"/><circle cx="1642.8" cy="628.7" r="6.4"/><circle cx="1480.2" cy="633.0" r="6.4"/><circle cx="1471.1" cy="647.0" r="6.4"/><circle cx="1586.3" cy="635.4" r="6.4"/><circle cx="1591.2" cy="640.8" r="6.4"/><circle cx="1597.1" cy="639.4" r="6.4"/><circle cx="1594.4" cy="653.4" r="6.4"/><circle cx="1607.8" cy="651.5" r="6.4"/><circle cx="1600.3" cy="663.1" r="6.4"/><circle cx="1592.8" cy="668.5" r="6.4"/><circle cx="1631.5" cy="643.5" r="6.4"/><circle cx="1637.4" cy="649.6" r="6.4"/><circle cx="1629.9" cy="656.9" r="6.4"/><circle cx="1642.8" cy="660.9" r="6.4"/><circle cx="1601.9" cy="679.7" r="6.4"/><circle cx="1640.1" cy="702.3" r="6.4"/><circle cx="1624.5" cy="714.7" r="6.4"/><circle cx="1639.0" cy="730.3" r="6.4"/><circle cx="1667.0" cy="371.3" r="6.4"/><circle cx="1849.8" cy="380.9" r="6.4"/><circle cx="1761.1" cy="401.6" r="6.4"/><circle cx="1751.9" cy="412.6" r="6.4"/><circle cx="1777.7" cy="414.5" r="6.4"/><circle cx="1851.4" cy="420.2" r="6.4"/><circle cx="1846.0" cy="429.3" r="6.4"/><circle cx="1843.8" cy="438.7" r="6.4"/><circle cx="1659.5" cy="431.2" r="6.4"/><circle cx="1681.3" cy="420.4" r="6.4"/><circle cx="1688.0" cy="422.3" r="6.4"/><circle cx="1691.2" cy="420.7" r="6.4"/><circle cx="1679.9" cy="436.6" r="6.4"/><circle cx="1757.3" cy="434.4" r="6.4"/><circle cx="1755.4" cy="458.3" r="6.4"/><circle cx="1669.2" cy="447.0" r="6.4"/><circle cx="1661.1" cy="455.4" r="6.4"/><circle cx="1657.1" cy="462.6" r="6.4"/><circle cx="1664.9" cy="470.1" r="6.4"/><circle cx="1677.8" cy="474.4" r="6.4"/><circle cx="1687.5" cy="469.1" r="6.4"/><circle cx="1696.6" cy="472.8" r="6.4"/><circle cx="1695.0" cy="487.1" r="6.4"/><circle cx="1816.4" cy="462.1" r="6.4"/><circle cx="1842.2" cy="470.7" r="6.4"/><circle cx="1847.9" cy="492.7" r="6.4"/><circle cx="1759.2" cy="471.5" r="6.4"/><circle cx="1763.2" cy="476.9" r="6.4"/><circle cx="1771.3" cy="476.9" r="6.4"/><circle cx="1778.8" cy="480.9" r="6.4"/><circle cx="1783.7" cy="479.6" r="6.4"/><circle cx="1792.3" cy="484.9" r="6.4"/><circle cx="1807.3" cy="475.5" r="6.4"/><circle cx="1805.1" cy="479.6" r="6.4"/><circle cx="1814.3" cy="490.0" r="6.4"/><circle cx="1818.3" cy="500.2" r="6.4"/><circle cx="1821.3" cy="507.8" r="6.4"/><circle cx="1825.0" cy="511.0" r="6.4"/><circle cx="1663.3" cy="492.2" r="6.4"/><circle cx="1671.3" cy="491.6" r="6.4"/><circle cx="1676.2" cy="499.2" r="6.4"/><circle cx="1740.7" cy="502.9" r="6.4"/><circle cx="1734.7" cy="510.5" r="6.4"/><circle cx="1753.6" cy="511.5" r="6.4"/><circle cx="1764.8" cy="503.2" r="6.4"/><circle cx="1796.0" cy="502.4" r="6.4"/><circle cx="1653.1" cy="520.7" r="6.4"/><circle cx="1655.2" cy="525.5" r="6.4"/><circle cx="1651.7" cy="534.6" r="6.4"/><circle cx="1672.4" cy="518.0" r="6.4"/><circle cx="1684.0" cy="518.5" r="6.4"/><circle cx="1674.0" cy="530.3" r="6.4"/><circle cx="1692.8" cy="527.7" r="6.4"/><circle cx="1685.3" cy="544.9" r="6.4"/><circle cx="1825.6" cy="523.9" r="6.4"/><circle cx="1840.6" cy="535.7" r="6.4"/><circle cx="1811.1" cy="530.9" r="6.4"/><circle cx="1827.7" cy="541.6" r="6.4"/><circle cx="1787.4" cy="527.1" r="6.4"/><circle cx="1791.4" cy="528.2" r="6.4"/><circle cx="1789.0" cy="541.4" r="6.4"/><circle cx="1766.5" cy="530.3" r="6.4"/><circle cx="1741.7" cy="532.0" r="6.4"/><circle cx="1748.5" cy="530.9" r="6.4"/><circle cx="1729.9" cy="536.0" r="6.4"/><circle cx="1727.8" cy="544.0" r="6.4"/><circle cx="1769.9" cy="544.0" r="6.4"/><circle cx="1776.7" cy="547.5" r="6.4"/><circle cx="1768.1" cy="557.5" r="6.4"/><circle cx="1779.4" cy="553.4" r="6.4"/><circle cx="1785.3" cy="558.3" r="6.4"/><circle cx="1745.0" cy="553.4" r="6.4"/><circle cx="1736.9" cy="559.4" r="6.4"/><circle cx="1803.5" cy="558.3" r="6.4"/><circle cx="1794.4" cy="571.2" r="6.4"/><circle cx="1802.2" cy="570.1" r="6.4"/><circle cx="1821.8" cy="562.6" r="6.4"/><circle cx="1831.5" cy="555.6" r="6.4"/><circle cx="1698.7" cy="561.0" r="6.4"/><circle cx="1702.8" cy="561.0" r="6.4"/><circle cx="1650.4" cy="573.6" r="6.4"/><circle cx="1749.8" cy="579.2" r="6.4"/><circle cx="1838.5" cy="572.3" r="6.4"/><circle cx="1705.7" cy="588.6" r="6.4"/><circle cx="1703.8" cy="600.5" r="6.4"/><circle cx="1798.2" cy="595.9" r="6.4"/><circle cx="1835.2" cy="588.4" r="6.4"/><circle cx="1746.0" cy="609.9" r="6.4"/><circle cx="1808.9" cy="612.0" r="6.4"/><circle cx="1799.5" cy="624.7" r="6.4"/><circle cx="1812.7" cy="626.5" r="6.4"/><circle cx="1830.4" cy="618.5" r="6.4"/><circle cx="1836.9" cy="617.9" r="6.4"/><circle cx="1833.1" cy="620.6" r="6.4"/><circle cx="1700.1" cy="631.4" r="6.4"/><circle cx="1720.2" cy="626.0" r="6.4"/><circle cx="1726.1" cy="629.2" r="6.4"/><circle cx="1709.5" cy="643.5" r="6.4"/><circle cx="1707.3" cy="649.1" r="6.4"/><circle cx="1711.6" cy="655.6" r="6.4"/><circle cx="1722.4" cy="648.3" r="6.4"/><circle cx="1731.5" cy="659.6" r="6.4"/><circle cx="1712.7" cy="677.1" r="6.4"/><circle cx="1724.0" cy="676.5" r="6.4"/><circle cx="1739.0" cy="674.4" r="6.4"/><circle cx="1714.9" cy="699.1" r="6.4"/><circle cx="1718.9" cy="705.5" r="6.4"/><circle cx="1733.7" cy="710.9" r="6.4"/><circle cx="1717.0" cy="720.6" r="6.4"/><circle cx="1409.5" cy="444.5" r="6.4"/></g>
<path d="M258.0 225V209M258.0 869V885M302.3 225V218M302.3 869V876M346.6 225V218M346.6 869V876M391.0 225V209M391.0 869V885M435.3 225V218M435.3 869V876M479.6 225V218M479.6 869V876M523.9 225V209M523.9 869V885M568.2 225V218M568.2 869V876M612.6 225V218M612.6 869V876M656.9 225V209M656.9 869V885M701.2 225V218M701.2 869V876M745.5 225V218M745.5 869V876M789.8 225V209M789.8 869V885M834.2 225V218M834.2 869V876M878.5 225V218M878.5 869V876M922.8 225V209M922.8 869V885M967.1 225V218M967.1 869V876M1011.4 225V218M1011.4 869V876M1055.8 225V209M1055.8 869V885M1100.1 225V218M1100.1 869V876M1144.4 225V218M1144.4 869V876M1188.7 225V209M1188.7 869V885M1233.0 225V218M1233.0 869V876M1277.4 225V218M1277.4 869V876M1321.7 225V209M1321.7 869V885M1366.0 225V218M1366.0 869V876M1410.3 225V218M1410.3 869V876M1454.6 225V209M1454.6 869V885M1499.0 225V218M1499.0 869V876M1543.3 225V218M1543.3 869V876M1587.6 225V209M1587.6 869V885M1631.9 225V218M1631.9 869V876M1676.2 225V218M1676.2 869V876M1720.6 225V209M1720.6 869V885M1764.9 225V218M1764.9 869V876M1809.2 225V218M1809.2 869V876M1853.5 225V209M1853.5 869V885M223 329.7H207M1887 329.7H1903M223 464.9H207M1887 464.9H1903M223 600.1H207M1887 600.1H1903M223 735.4H207M1887 735.4H1903" stroke="#000" stroke-width="2" fill="none"/>
<rect x="226" y="228" width="1657.5" height="638.0" fill="none" stroke="#000" stroke-width="6"/>
<text transform="translate(245.96 932.90) scale(1 1.06)" font-size="43.3" font-weight="bold">0</text>
<text transform="translate(378.92 932.90) scale(1 1.06)" font-size="43.3" font-weight="bold">6</text>
<path transform="translate(499.84 932.90) scale(43.3 -45.898)" d="M0.236 0L0.378 0L0.378 0.65L0.27 0.65C0.252 0.588 0.19 0.545 0.072 0.541L0.072 0.45L0.236 0.45Z"/><text transform="translate(523.92 932.90) scale(1 1.06)" font-size="43.3" font-weight="bold">2</text>
<path transform="translate(632.80 932.90) scale(43.3 -45.898)" d="M0.236 0L0.378 0L0.378 0.65L0.27 0.65C0.252 0.588 0.19 0.545 0.072 0.541L0.072 0.45L0.236 0.45Z"/><text transform="translate(656.88 932.90) scale(1 1.06)" font-size="43.3" font-weight="bold">8</text>
<text transform="translate(765.76 932.90) scale(1 1.06)" font-size="43.3" font-weight="bold">24</text>
<text transform="translate(898.72 932.90) scale(1 1.06)" font-size="43.3" font-weight="bold">30</text>
<text transform="translate(1031.68 932.90) scale(1 1.06)" font-size="43.3" font-weight="bold">36</text>
<text transform="translate(1164.64 932.90) scale(1 1.06)" font-size="43.3" font-weight="bold">42</text>
<text transform="translate(1297.60 932.90) scale(1 1.06)" font-size="43.3" font-weight="bold">48</text>
<text transform="translate(1430.56 932.90) scale(1 1.06)" font-size="43.3" font-weight="bold">54</text>
<text transform="translate(1563.52 932.90) scale(1 1.06)" font-size="43.3" font-weight="bold">60</text>
<text transform="translate(1696.48 932.90) scale(1 1.06)" font-size="43.3" font-weight="bold">66</text>
<text transform="translate(1829.44 932.90) scale(1 1.06)" font-size="43.3" font-weight="bold">72</text>
<text transform="translate(166.52 345.87) scale(1 1.06)" font-size="43.3" font-weight="bold">8</text>
<text transform="translate(166.52 481.10) scale(1 1.06)" font-size="43.3" font-weight="bold">0</text>
<text transform="translate(166.52 616.33) scale(1 1.06)" font-size="43.3" font-weight="bold">8</text>
<rect x="143.6" y="603.7" width="21.2" height="4.9"/>
<path transform="translate(142.44 751.56) scale(43.3 -45.898)" d="M0.236 0L0.378 0L0.378 0.65L0.27 0.65C0.252 0.588 0.19 0.545 0.072 0.541L0.072 0.45L0.236 0.45Z"/><text transform="translate(166.52 751.56) scale(1 1.06)" font-size="43.3" font-weight="bold">6</text>
<rect x="120.8" y="739.0" width="21.2" height="4.9"/>
<text transform="translate(90 547.0) rotate(-90) scale(1 1.06)" font-size="42.5" text-anchor="middle">East (mm)</text>
<g fill="#0000ff"><circle cx="392.4" cy="1183.5" r="6.4"/><circle cx="421.9" cy="1207.4" r="6.4"/><circle cx="315.0" cy="1234.6" r="6.4"/><circle cx="319.8" cy="1244.5" r="6.4"/><circle cx="357.4" cy="1234.6" r="6.4"/><circle cx="265.3" cy="1259.3" r="6.4"/><circle cx="296.4" cy="1262.5" r="6.4"/><circle cx="359.6" cy="1253.4" r="6.4"/><circle cx="374.1" cy="1245.8" r="6.4"/><circle cx="378.1" cy="1253.9" r="6.4"/><circle cx="383.5" cy="1259.3" r="6.4"/><circle cx="389.7" cy="1257.1" r="6.4"/><circle cx="397.7" cy="1263.6" r="6.4"/><circle cx="405.8" cy="1262.5" r="6.4"/><circle cx="412.8" cy="1250.7" r="6.4"/><circle cx="436.4" cy="1251.2" r="6.4"/><circle cx="448.0" cy="1237.2" r="6.4"/><circle cx="460.1" cy="1235.6" r="6.4"/><circle cx="452.0" cy="1246.9" r="6.4"/><circle cx="462.2" cy="1253.9" r="6.4"/><circle cx="422.5" cy="1265.2" r="6.4"/><circle cx="418.4" cy="1272.7" r="6.4"/><circle cx="326.3" cy="1270.6" r="6.4"/><circle cx="366.6" cy="1274.1" r="6.4"/><circle cx="330.6" cy="1284.5" r="6.4"/><circle cx="335.9" cy="1288.3" r="6.4"/><circle cx="355.3" cy="1284.0" r="6.4"/><circle cx="380.8" cy="1282.9" r="6.4"/><circle cx="387.5" cy="1284.8" r="6.4"/><circle cx="399.6" cy="1291.5" r="6.4"/><circle cx="449.9" cy="1274.1" r="6.4"/><circle cx="457.4" cy="1285.6" r="6.4"/><circle cx="454.2" cy="1295.6" r="6.4"/><circle cx="461.7" cy="1296.9" r="6.4"/><circle cx="438.6" cy="1294.7" r="6.4"/><circle cx="280.1" cy="1292.6" r="6.4"/><circle cx="298.3" cy="1301.7" r="6.4"/><circle cx="362.3" cy="1295.8" r="6.4"/><circle cx="370.9" cy="1298.2" r="6.4"/><circle cx="285.4" cy="1307.1" r="6.4"/><circle cx="333.8" cy="1305.5" r="6.4"/><circle cx="263.4" cy="1315.2" r="6.4"/><circle cx="267.2" cy="1319.7" r="6.4"/><circle cx="278.2" cy="1324.3" r="6.4"/><circle cx="302.1" cy="1314.4" r="6.4"/><circle cx="306.9" cy="1318.4" r="6.4"/><circle cx="316.3" cy="1314.4" r="6.4"/><circle cx="311.0" cy="1319.7" r="6.4"/><circle cx="301.0" cy="1328.6" r="6.4"/><circle cx="305.6" cy="1327.8" r="6.4"/><circle cx="337.8" cy="1314.4" r="6.4"/><circle cx="343.2" cy="1319.7" r="6.4"/><circle cx="352.1" cy="1317.9" r="6.4"/><circle cx="327.9" cy="1322.7" r="6.4"/><circle cx="368.2" cy="1321.1" r="6.4"/><circle cx="380.0" cy="1325.4" r="6.4"/><circle cx="403.7" cy="1311.7" r="6.4"/><circle cx="407.4" cy="1318.4" r="6.4"/><circle cx="416.6" cy="1323.2" r="6.4"/><circle cx="426.2" cy="1315.2" r="6.4"/><circle cx="432.1" cy="1321.1" r="6.4"/><circle cx="441.3" cy="1315.2" r="6.4"/><circle cx="446.1" cy="1310.3" r="6.4"/><circle cx="458.7" cy="1315.7" r="6.4"/><circle cx="462.8" cy="1329.1" r="6.4"/><circle cx="462.8" cy="1343.9" r="6.4"/><circle cx="324.4" cy="1339.9" r="6.4"/><circle cx="329.8" cy="1344.7" r="6.4"/><circle cx="339.2" cy="1345.3" r="6.4"/><circle cx="347.2" cy="1339.9" r="6.4"/><circle cx="353.9" cy="1335.9" r="6.4"/><circle cx="362.0" cy="1332.4" r="6.4"/><circle cx="364.7" cy="1343.1" r="6.4"/><circle cx="372.8" cy="1343.7" r="6.4"/><circle cx="287.6" cy="1339.9" r="6.4"/><circle cx="291.3" cy="1346.6" r="6.4"/><circle cx="268.8" cy="1346.3" r="6.4"/><circle cx="280.1" cy="1350.6" r="6.4"/><circle cx="273.3" cy="1357.4" r="6.4"/><circle cx="284.1" cy="1357.4" r="6.4"/><circle cx="294.8" cy="1358.7" r="6.4"/><circle cx="307.5" cy="1346.6" r="6.4"/><circle cx="309.1" cy="1358.7" r="6.4"/><circle cx="312.8" cy="1368.9" r="6.4"/><circle cx="346.2" cy="1358.7" r="6.4"/><circle cx="384.9" cy="1350.1" r="6.4"/><circle cx="414.4" cy="1348.5" r="6.4"/><circle cx="420.3" cy="1355.5" r="6.4"/><circle cx="427.8" cy="1347.4" r="6.4"/><circle cx="429.5" cy="1337.7" r="6.4"/><circle cx="442.6" cy="1354.9" r="6.4"/><circle cx="433.8" cy="1360.9" r="6.4"/><circle cx="435.4" cy="1366.8" r="6.4"/><circle cx="258.0" cy="1372.1" r="6.4"/><circle cx="261.2" cy="1369.4" r="6.4"/><circle cx="394.3" cy="1370.0" r="6.4"/><circle cx="396.1" cy="1381.5" r="6.4"/><circle cx="410.6" cy="1383.4" r="6.4"/><circle cx="390.8" cy="1394.7" r="6.4"/><circle cx="270.6" cy="1387.7" r="6.4"/><circle cx="292.7" cy="1387.7" r="6.4"/><circle cx="349.9" cy="1393.1" r="6.4"/><circle cx="340.8" cy="1416.5" r="6.4"/><circle cx="345.1" cy="1419.4" r="6.4"/><circle cx="401.8" cy="1421.0" r="6.4"/><circle cx="409.6" cy="1439.9" r="6.4"/><circle cx="322.5" cy="1463.5" r="6.4"/><circle cx="625.1" cy="1056.1" r="6.4"/><circle cx="470.4" cy="1112.3" r="6.4"/><circle cx="632.7" cy="1166.3" r="6.4"/><circle cx="577.3" cy="1184.0" r="6.4"/><circle cx="579.2" cy="1202.9" r="6.4"/><circle cx="588.3" cy="1217.9" r="6.4"/><circle cx="606.9" cy="1228.4" r="6.4"/><circle cx="531.1" cy="1218.2" r="6.4"/><circle cx="562.3" cy="1225.4" r="6.4"/><circle cx="566.0" cy="1248.0" r="6.4"/><circle cx="693.4" cy="1206.3" r="6.4"/><circle cx="666.0" cy="1209.8" r="6.4"/><circle cx="660.4" cy="1216.3" r="6.4"/><circle cx="475.7" cy="1249.9" r="6.4"/><circle cx="481.7" cy="1256.1" r="6.4"/><circle cx="474.4" cy="1270.0" r="6.4"/><circle cx="516.1" cy="1239.9" r="6.4"/><circle cx="520.1" cy="1251.8" r="6.4"/><circle cx="510.7" cy="1258.7" r="6.4"/><circle cx="514.7" cy="1264.7" r="6.4"/><circle cx="639.7" cy="1236.4" r="6.4"/><circle cx="643.7" cy="1241.8" r="6.4"/><circle cx="650.9" cy="1245.8" r="6.4"/><circle cx="659.0" cy="1243.2" r="6.4"/><circle cx="594.0" cy="1256.1" r="6.4"/><circle cx="621.4" cy="1272.2" r="6.4"/><circle cx="544.0" cy="1263.6" r="6.4"/><circle cx="553.7" cy="1270.6" r="6.4"/><circle cx="580.0" cy="1271.4" r="6.4"/><circle cx="584.6" cy="1274.1" r="6.4"/><circle cx="634.8" cy="1263.3" r="6.4"/><circle cx="637.0" cy="1268.7" r="6.4"/><circle cx="645.6" cy="1261.4" r="6.4"/><circle cx="654.4" cy="1270.0" r="6.4"/><circle cx="663.3" cy="1274.9" r="6.4"/><circle cx="663.8" cy="1282.4" r="6.4"/><circle cx="671.4" cy="1285.6" r="6.4"/><circle cx="677.3" cy="1256.6" r="6.4"/><circle cx="681.0" cy="1266.0" r="6.4"/><circle cx="689.6" cy="1275.9" r="6.4"/><circle cx="691.8" cy="1280.2" r="6.4"/><circle cx="512.8" cy="1283.5" r="6.4"/><circle cx="534.9" cy="1290.2" r="6.4"/><circle cx="542.9" cy="1294.2" r="6.4"/><circle cx="525.5" cy="1296.9" r="6.4"/><circle cx="540.2" cy="1305.0" r="6.4"/><circle cx="535.4" cy="1311.7" r="6.4"/><circle cx="529.5" cy="1318.4" r="6.4"/><circle cx="559.0" cy="1293.1" r="6.4"/><circle cx="557.7" cy="1303.6" r="6.4"/><circle cx="561.7" cy="1311.7" r="6.4"/><circle cx="604.7" cy="1288.3" r="6.4"/><circle cx="591.8" cy="1301.2" r="6.4"/><circle cx="628.9" cy="1296.9" r="6.4"/><circle cx="630.5" cy="1300.1" r="6.4"/><circle cx="675.1" cy="1299.6" r="6.4"/><circle cx="678.9" cy="1308.2" r="6.4"/><circle cx="647.7" cy="1307.6" r="6.4"/><circle cx="497.2" cy="1300.9" r="6.4"/><circle cx="505.3" cy="1300.9" r="6.4"/><circle cx="502.6" cy="1309.0" r="6.4"/><circle cx="508.0" cy="1311.7" r="6.4"/><circle cx="518.2" cy="1311.4" r="6.4"/><circle cx="477.1" cy="1315.7" r="6.4"/><circle cx="483.8" cy="1319.7" r="6.4"/><circle cx="490.5" cy="1317.1" r="6.4"/><circle cx="498.6" cy="1325.1" r="6.4"/><circle cx="494.0" cy="1326.5" r="6.4"/><circle cx="469.0" cy="1327.8" r="6.4"/><circle cx="596.7" cy="1316.5" r="6.4"/><circle cx="599.4" cy="1323.8" r="6.4"/><circle cx="697.7" cy="1318.4" r="6.4"/><circle cx="667.9" cy="1322.2" r="6.4"/><circle cx="509.3" cy="1331.8" r="6.4"/><circle cx="522.0" cy="1330.5" r="6.4"/><circle cx="529.0" cy="1332.4" r="6.4"/><circle cx="537.0" cy="1337.2" r="6.4"/><circle cx="522.0" cy="1342.0" r="6.4"/><circle cx="549.6" cy="1330.5" r="6.4"/><circle cx="555.8" cy="1332.4" r="6.4"/><circle cx="564.4" cy="1323.8" r="6.4"/><circle cx="568.5" cy="1330.5" r="6.4"/><circle cx="574.6" cy="1328.6" r="6.4"/><circle cx="547.0" cy="1349.0" r="6.4"/><circle cx="494.0" cy="1338.5" r="6.4"/><circle cx="492.4" cy="1345.3" r="6.4"/><circle cx="595.6" cy="1337.2" r="6.4"/><circle cx="614.4" cy="1334.0" r="6.4"/><circle cx="610.1" cy="1343.9" r="6.4"/><circle cx="616.8" cy="1346.6" r="6.4"/><circle cx="656.3" cy="1328.6" r="6.4"/><circle cx="652.0" cy="1337.2" r="6.4"/><circle cx="648.8" cy="1343.7" r="6.4"/><circle cx="673.2" cy="1344.2" r="6.4"/><circle cx="682.7" cy="1338.8" r="6.4"/><circle cx="696.1" cy="1344.7" r="6.4"/><circle cx="623.5" cy="1357.6" r="6.4"/><circle cx="612.3" cy="1364.1" r="6.4"/><circle cx="488.6" cy="1360.0" r="6.4"/><circle cx="486.5" cy="1368.1" r="6.4"/><circle cx="485.2" cy="1378.0" r="6.4"/><circle cx="669.8" cy="1366.2" r="6.4"/><circle cx="694.7" cy="1364.1" r="6.4"/><circle cx="601.5" cy="1371.6" r="6.4"/><circle cx="603.4" cy="1376.2" r="6.4"/><circle cx="619.2" cy="1379.7" r="6.4"/><circle cx="627.3" cy="1385.0" r="6.4"/><circle cx="618.2" cy="1390.4" r="6.4"/><circle cx="638.0" cy="1374.8" r="6.4"/><circle cx="643.7" cy="1395.2" r="6.4"/><circle cx="570.1" cy="1382.3" r="6.4"/><circle cx="586.5" cy="1382.3" r="6.4"/><circle cx="571.7" cy="1404.9" r="6.4"/><circle cx="575.2" cy="1422.7" r="6.4"/><circle cx="686.4" cy="1401.7" r="6.4"/><circle cx="685.3" cy="1411.9" r="6.4"/><circle cx="688.0" cy="1414.6" r="6.4"/><circle cx="582.7" cy="1448.4" r="6.4"/><circle cx="590.2" cy="1473.2" r="6.4"/><circle cx="608.8" cy="1475.9" r="6.4"/><circle cx="904.1" cy="1172.2" r="6.4"/><circle cx="929.9" cy="1217.1" r="6.4"/><circle cx="905.8" cy="1220.3" r="6.4"/><circle cx="908.4" cy="1226.5" r="6.4"/><circle cx="899.8" cy="1234.6" r="6.4"/><circle cx="926.2" cy="1242.1" r="6.4"/><circle cx="928.3" cy="1248.5" r="6.4"/><circle cx="751.0" cy="1234.3" r="6.4"/><circle cx="715.8" cy="1254.7" r="6.4"/><circle cx="720.3" cy="1257.4" r="6.4"/><circle cx="725.2" cy="1269.5" r="6.4"/><circle cx="723.0" cy="1284.8" r="6.4"/><circle cx="747.2" cy="1274.9" r="6.4"/><circle cx="804.2" cy="1270.0" r="6.4"/><circle cx="809.6" cy="1286.1" r="6.4"/><circle cx="774.6" cy="1282.7" r="6.4"/><circle cx="850.7" cy="1253.4" r="6.4"/><circle cx="869.2" cy="1275.9" r="6.4"/><circle cx="837.5" cy="1289.6" r="6.4"/><circle cx="706.4" cy="1299.6" r="6.4"/><circle cx="709.6" cy="1305.5" r="6.4"/><circle cx="730.0" cy="1298.2" r="6.4"/><circle cx="728.9" cy="1302.3" r="6.4"/><circle cx="732.7" cy="1303.6" r="6.4"/><circle cx="763.9" cy="1292.9" r="6.4"/><circle cx="770.3" cy="1300.9" r="6.4"/><circle cx="778.9" cy="1305.0" r="6.4"/><circle cx="786.4" cy="1304.4" r="6.4"/><circle cx="789.7" cy="1292.1" r="6.4"/><circle cx="795.6" cy="1293.7" r="6.4"/><circle cx="798.3" cy="1300.9" r="6.4"/><circle cx="768.2" cy="1311.7" r="6.4"/><circle cx="773.0" cy="1315.7" r="6.4"/><circle cx="783.8" cy="1315.2" r="6.4"/><circle cx="811.2" cy="1311.7" r="6.4"/><circle cx="805.8" cy="1318.4" r="6.4"/><circle cx="894.5" cy="1306.0" r="6.4"/><circle cx="911.1" cy="1298.8" r="6.4"/><circle cx="933.7" cy="1311.7" r="6.4"/><circle cx="902.0" cy="1317.1" r="6.4"/><circle cx="910.1" cy="1315.7" r="6.4"/><circle cx="857.4" cy="1313.8" r="6.4"/><circle cx="855.8" cy="1323.0" r="6.4"/><circle cx="705.0" cy="1319.7" r="6.4"/><circle cx="721.2" cy="1319.7" r="6.4"/><circle cx="727.9" cy="1321.6" r="6.4"/><circle cx="735.9" cy="1329.7" r="6.4"/><circle cx="717.7" cy="1334.5" r="6.4"/><circle cx="712.3" cy="1345.3" r="6.4"/><circle cx="885.9" cy="1330.5" r="6.4"/><circle cx="891.2" cy="1338.5" r="6.4"/><circle cx="889.1" cy="1345.8" r="6.4"/><circle cx="886.9" cy="1353.3" r="6.4"/><circle cx="893.1" cy="1359.2" r="6.4"/><circle cx="899.3" cy="1368.9" r="6.4"/><circle cx="896.6" cy="1378.9" r="6.4"/><circle cx="920.8" cy="1329.9" r="6.4"/><circle cx="919.2" cy="1348.0" r="6.4"/><circle cx="932.6" cy="1342.0" r="6.4"/><circle cx="802.6" cy="1335.1" r="6.4"/><circle cx="797.7" cy="1338.5" r="6.4"/><circle cx="800.4" cy="1346.6" r="6.4"/><circle cx="792.4" cy="1350.6" r="6.4"/><circle cx="813.9" cy="1340.4" r="6.4"/><circle cx="823.3" cy="1344.5" r="6.4"/><circle cx="815.5" cy="1353.9" r="6.4"/><circle cx="776.8" cy="1343.1" r="6.4"/><circle cx="765.5" cy="1352.3" r="6.4"/><circle cx="752.6" cy="1345.3" r="6.4"/><circle cx="744.0" cy="1349.3" r="6.4"/><circle cx="846.6" cy="1341.8" r="6.4"/><circle cx="844.8" cy="1352.0" r="6.4"/><circle cx="852.8" cy="1353.3" r="6.4"/><circle cx="859.5" cy="1357.4" r="6.4"/><circle cx="864.9" cy="1360.0" r="6.4"/><circle cx="854.2" cy="1365.4" r="6.4"/><circle cx="870.8" cy="1368.1" r="6.4"/><circle cx="866.3" cy="1377.5" r="6.4"/><circle cx="703.7" cy="1354.7" r="6.4"/><circle cx="734.3" cy="1360.3" r="6.4"/><circle cx="738.6" cy="1369.4" r="6.4"/><circle cx="745.3" cy="1367.3" r="6.4"/><circle cx="756.1" cy="1373.5" r="6.4"/><circle cx="754.7" cy="1378.9" r="6.4"/><circle cx="741.3" cy="1381.0" r="6.4"/><circle cx="767.6" cy="1366.2" r="6.4"/><circle cx="787.5" cy="1364.1" r="6.4"/><circle cx="778.4" cy="1375.4" r="6.4"/><circle cx="781.6" cy="1386.1" r="6.4"/><circle cx="821.1" cy="1371.6" r="6.4"/><circle cx="826.8" cy="1380.7" r="6.4"/><circle cx="833.2" cy="1384.2" r="6.4"/><circle cx="839.7" cy="1389.9" r="6.4"/><circle cx="848.8" cy="1377.5" r="6.4"/><circle cx="923.0" cy="1385.6" r="6.4"/><circle cx="917.0" cy="1389.3" r="6.4"/><circle cx="913.3" cy="1400.6" r="6.4"/><circle cx="924.0" cy="1409.8" r="6.4"/><circle cx="882.6" cy="1393.6" r="6.4"/><circle cx="861.7" cy="1403.3" r="6.4"/><circle cx="873.0" cy="1403.8" r="6.4"/><circle cx="878.3" cy="1414.1" r="6.4"/><circle cx="830.0" cy="1404.6" r="6.4"/><circle cx="714.4" cy="1418.9" r="6.4"/><circle cx="739.7" cy="1413.8" r="6.4"/><circle cx="749.4" cy="1418.9" r="6.4"/><circle cx="758.0" cy="1429.6" r="6.4"/><circle cx="762.3" cy="1443.1" r="6.4"/><circle cx="760.1" cy="1456.0" r="6.4"/><circle cx="808.5" cy="1416.2" r="6.4"/><circle cx="817.1" cy="1421.0" r="6.4"/><circle cx="835.4" cy="1427.0" r="6.4"/><circle cx="841.8" cy="1431.3" r="6.4"/><circle cx="819.2" cy="1446.3" r="6.4"/><circle cx="915.2" cy="1449.0" r="6.4"/><circle cx="833.7" cy="1470.5" r="6.4"/><circle cx="824.6" cy="1480.2" r="6.4"/><circle cx="843.1" cy="1488.8" r="6.4"/><circle cx="826.5" cy="1503.8" r="6.4"/><circle cx="880.2" cy="1484.2" r="6.4"/><circle cx="876.2" cy="1496.5" r="6.4"/><circle cx="874.6" cy="1522.1" r="6.4"/><circle cx="931.6" cy="1494.4" r="6.4"/><circle cx="1170.2" cy="1147.2" r="6.4"/><circle cx="1155.2" cy="1186.7" r="6.4"/><circle cx="1046.1" cy="1197.5" r="6.4"/><circle cx="1044.5" cy="1214.1" r="6.4"/><circle cx="1101.7" cy="1213.9" r="6.4"/><circle cx="966.6" cy="1232.9" r="6.4"/><circle cx="948.3" cy="1242.1" r="6.4"/><circle cx="952.0" cy="1249.6" r="6.4"/><circle cx="1000.1" cy="1239.7" r="6.4"/><circle cx="1009.6" cy="1248.5" r="6.4"/><circle cx="1060.6" cy="1236.4" r="6.4"/><circle cx="1070.5" cy="1249.1" r="6.4"/><circle cx="1068.1" cy="1261.2" r="6.4"/><circle cx="1048.0" cy="1258.2" r="6.4"/><circle cx="1052.0" cy="1264.1" r="6.4"/><circle cx="1107.4" cy="1240.7" r="6.4"/><circle cx="1098.8" cy="1252.3" r="6.4"/><circle cx="1105.7" cy="1252.8" r="6.4"/><circle cx="1127.5" cy="1256.6" r="6.4"/><circle cx="1124.0" cy="1269.0" r="6.4"/><circle cx="1168.1" cy="1241.8" r="6.4"/><circle cx="1171.3" cy="1236.4" r="6.4"/><circle cx="965.2" cy="1262.8" r="6.4"/><circle cx="998.3" cy="1267.1" r="6.4"/><circle cx="1086.4" cy="1271.6" r="6.4"/><circle cx="1114.3" cy="1276.5" r="6.4"/><circle cx="1167.6" cy="1277.6" r="6.4"/><circle cx="970.6" cy="1281.3" r="6.4"/><circle cx="981.3" cy="1284.0" r="6.4"/><circle cx="987.5" cy="1277.0" r="6.4"/><circle cx="1018.7" cy="1277.0" r="6.4"/><circle cx="1025.7" cy="1274.1" r="6.4"/><circle cx="1011.7" cy="1284.8" r="6.4"/><circle cx="1005.5" cy="1292.1" r="6.4"/><circle cx="1003.6" cy="1303.6" r="6.4"/><circle cx="1040.7" cy="1279.2" r="6.4"/><circle cx="1050.1" cy="1289.4" r="6.4"/><circle cx="1062.8" cy="1294.5" r="6.4"/><circle cx="1097.1" cy="1284.0" r="6.4"/><circle cx="1104.1" cy="1286.1" r="6.4"/><circle cx="941.8" cy="1296.9" r="6.4"/><circle cx="963.9" cy="1293.7" r="6.4"/><circle cx="969.2" cy="1294.2" r="6.4"/><circle cx="961.2" cy="1300.1" r="6.4"/><circle cx="1029.7" cy="1299.6" r="6.4"/><circle cx="1037.0" cy="1298.2" r="6.4"/><circle cx="1043.1" cy="1300.1" r="6.4"/><circle cx="1038.6" cy="1306.6" r="6.4"/><circle cx="1014.9" cy="1305.5" r="6.4"/><circle cx="1024.1" cy="1314.6" r="6.4"/><circle cx="1016.5" cy="1318.4" r="6.4"/><circle cx="1022.4" cy="1323.8" r="6.4"/><circle cx="1072.4" cy="1301.7" r="6.4"/><circle cx="1074.6" cy="1309.0" r="6.4"/><circle cx="1066.0" cy="1309.8" r="6.4"/><circle cx="1064.6" cy="1315.7" r="6.4"/><circle cx="1054.7" cy="1315.2" r="6.4"/><circle cx="1088.8" cy="1313.6" r="6.4"/><circle cx="1111.1" cy="1307.6" r="6.4"/><circle cx="1125.6" cy="1303.1" r="6.4"/><circle cx="1135.0" cy="1295.0" r="6.4"/><circle cx="1121.9" cy="1315.2" r="6.4"/><circle cx="1145.2" cy="1305.5" r="6.4"/><circle cx="1150.6" cy="1304.4" r="6.4"/><circle cx="1160.0" cy="1304.4" r="6.4"/><circle cx="1168.6" cy="1304.4" r="6.4"/><circle cx="955.8" cy="1315.7" r="6.4"/><circle cx="983.2" cy="1314.9" r="6.4"/><circle cx="977.3" cy="1328.1" r="6.4"/><circle cx="990.7" cy="1330.5" r="6.4"/><circle cx="988.1" cy="1337.2" r="6.4"/><circle cx="993.4" cy="1342.0" r="6.4"/><circle cx="1002.0" cy="1348.5" r="6.4"/><circle cx="1007.4" cy="1333.4" r="6.4"/><circle cx="953.7" cy="1335.3" r="6.4"/><circle cx="949.9" cy="1342.6" r="6.4"/><circle cx="959.6" cy="1354.9" r="6.4"/><circle cx="1138.5" cy="1329.1" r="6.4"/><circle cx="1141.8" cy="1323.8" r="6.4"/><circle cx="1148.7" cy="1320.0" r="6.4"/><circle cx="1083.2" cy="1336.7" r="6.4"/><circle cx="1117.6" cy="1334.5" r="6.4"/><circle cx="1115.7" cy="1338.5" r="6.4"/><circle cx="1129.4" cy="1342.0" r="6.4"/><circle cx="1031.0" cy="1343.1" r="6.4"/><circle cx="1037.0" cy="1353.9" r="6.4"/><circle cx="1053.1" cy="1343.9" r="6.4"/><circle cx="1056.8" cy="1349.0" r="6.4"/><circle cx="1059.3" cy="1360.3" r="6.4"/><circle cx="1013.0" cy="1357.1" r="6.4"/><circle cx="1090.2" cy="1353.9" r="6.4"/><circle cx="1092.9" cy="1366.8" r="6.4"/><circle cx="1095.0" cy="1372.7" r="6.4"/><circle cx="1109.0" cy="1365.1" r="6.4"/><circle cx="1141.8" cy="1352.8" r="6.4"/><circle cx="1145.5" cy="1358.2" r="6.4"/><circle cx="1152.0" cy="1364.1" r="6.4"/><circle cx="1154.7" cy="1369.4" r="6.4"/><circle cx="1160.0" cy="1378.0" r="6.4"/><circle cx="1133.2" cy="1368.4" r="6.4"/><circle cx="1131.0" cy="1378.6" r="6.4"/><circle cx="1076.7" cy="1374.8" r="6.4"/><circle cx="1083.4" cy="1380.2" r="6.4"/><circle cx="1081.6" cy="1386.1" r="6.4"/><circle cx="996.7" cy="1369.4" r="6.4"/><circle cx="994.0" cy="1377.5" r="6.4"/><circle cx="985.4" cy="1378.9" r="6.4"/><circle cx="974.1" cy="1380.7" r="6.4"/><circle cx="980.0" cy="1388.3" r="6.4"/><circle cx="971.9" cy="1397.7" r="6.4"/><circle cx="946.7" cy="1378.3" r="6.4"/><circle cx="1075.7" cy="1397.4" r="6.4"/><circle cx="1027.8" cy="1403.8" r="6.4"/><circle cx="942.9" cy="1408.1" r="6.4"/><circle cx="957.7" cy="1406.0" r="6.4"/><circle cx="945.1" cy="1424.0" r="6.4"/><circle cx="1112.2" cy="1408.4" r="6.4"/><circle cx="1120.3" cy="1406.5" r="6.4"/><circle cx="1157.3" cy="1428.0" r="6.4"/><circle cx="976.2" cy="1438.0" r="6.4"/><circle cx="1033.2" cy="1441.5" r="6.4"/><circle cx="1138.5" cy="1471.0" r="6.4"/><circle cx="1164.3" cy="1473.2" r="6.4"/><circle cx="940.2" cy="1546.3" r="6.4"/><circle cx="1210.6" cy="1104.2" r="6.4"/><circle cx="1262.5" cy="1137.3" r="6.4"/><circle cx="1334.2" cy="1168.7" r="6.4"/><circle cx="1181.1" cy="1210.1" r="6.4"/><circle cx="1192.3" cy="1213.6" r="6.4"/><circle cx="1264.4" cy="1212.3" r="6.4"/><circle cx="1236.4" cy="1223.0" r="6.4"/><circle cx="1345.5" cy="1218.2" r="6.4"/><circle cx="1377.2" cy="1221.1" r="6.4"/><circle cx="1375.1" cy="1240.5" r="6.4"/><circle cx="1199.3" cy="1234.0" r="6.4"/><circle cx="1225.7" cy="1237.0" r="6.4"/><circle cx="1242.3" cy="1239.4" r="6.4"/><circle cx="1220.3" cy="1249.9" r="6.4"/><circle cx="1221.9" cy="1256.6" r="6.4"/><circle cx="1238.0" cy="1262.0" r="6.4"/><circle cx="1260.3" cy="1254.7" r="6.4"/><circle cx="1266.2" cy="1264.7" r="6.4"/><circle cx="1183.2" cy="1262.8" r="6.4"/><circle cx="1194.5" cy="1260.6" r="6.4"/><circle cx="1333.7" cy="1266.8" r="6.4"/><circle cx="1340.1" cy="1269.5" r="6.4"/><circle cx="1399.3" cy="1262.0" r="6.4"/><circle cx="1403.6" cy="1257.9" r="6.4"/><circle cx="1177.0" cy="1282.1" r="6.4"/><circle cx="1184.3" cy="1280.2" r="6.4"/><circle cx="1179.7" cy="1290.2" r="6.4"/><circle cx="1197.2" cy="1277.6" r="6.4"/><circle cx="1203.1" cy="1288.8" r="6.4"/><circle cx="1201.5" cy="1296.9" r="6.4"/><circle cx="1209.3" cy="1294.2" r="6.4"/><circle cx="1227.3" cy="1289.6" r="6.4"/><circle cx="1259.0" cy="1284.0" r="6.4"/><circle cx="1257.4" cy="1294.7" r="6.4"/><circle cx="1245.6" cy="1297.4" r="6.4"/><circle cx="1343.4" cy="1295.8" r="6.4"/><circle cx="1367.5" cy="1294.2" r="6.4"/><circle cx="1212.8" cy="1306.8" r="6.4"/><circle cx="1204.7" cy="1309.8" r="6.4"/><circle cx="1188.6" cy="1316.8" r="6.4"/><circle cx="1233.5" cy="1316.2" r="6.4"/><circle cx="1269.7" cy="1314.9" r="6.4"/><circle cx="1363.8" cy="1312.5" r="6.4"/><circle cx="1373.2" cy="1314.4" r="6.4"/><circle cx="1380.4" cy="1308.2" r="6.4"/><circle cx="1314.3" cy="1323.2" r="6.4"/><circle cx="1341.7" cy="1322.4" r="6.4"/><circle cx="1347.7" cy="1326.5" r="6.4"/><circle cx="1350.9" cy="1331.8" r="6.4"/><circle cx="1353.6" cy="1336.7" r="6.4"/><circle cx="1362.4" cy="1324.8" r="6.4"/><circle cx="1328.9" cy="1334.5" r="6.4"/><circle cx="1396.0" cy="1321.1" r="6.4"/><circle cx="1403.0" cy="1317.1" r="6.4"/><circle cx="1406.8" cy="1326.5" r="6.4"/><circle cx="1382.6" cy="1334.0" r="6.4"/><circle cx="1392.0" cy="1331.3" r="6.4"/><circle cx="1206.6" cy="1323.8" r="6.4"/><circle cx="1214.6" cy="1327.8" r="6.4"/><circle cx="1186.4" cy="1333.2" r="6.4"/><circle cx="1191.3" cy="1333.2" r="6.4"/><circle cx="1239.6" cy="1328.6" r="6.4"/><circle cx="1246.1" cy="1335.9" r="6.4"/><circle cx="1255.0" cy="1335.9" r="6.4"/><circle cx="1250.9" cy="1349.6" r="6.4"/><circle cx="1268.1" cy="1342.6" r="6.4"/><circle cx="1281.0" cy="1347.4" r="6.4"/><circle cx="1300.9" cy="1346.3" r="6.4"/><circle cx="1307.4" cy="1334.5" r="6.4"/><circle cx="1310.6" cy="1338.5" r="6.4"/><circle cx="1405.7" cy="1351.2" r="6.4"/><circle cx="1223.5" cy="1348.5" r="6.4"/><circle cx="1230.8" cy="1358.2" r="6.4"/><circle cx="1243.9" cy="1361.4" r="6.4"/><circle cx="1316.8" cy="1357.4" r="6.4"/><circle cx="1316.0" cy="1360.3" r="6.4"/><circle cx="1288.0" cy="1367.3" r="6.4"/><circle cx="1291.2" cy="1375.4" r="6.4"/><circle cx="1281.8" cy="1380.2" r="6.4"/><circle cx="1273.0" cy="1381.5" r="6.4"/><circle cx="1285.9" cy="1389.6" r="6.4"/><circle cx="1293.9" cy="1396.3" r="6.4"/><circle cx="1297.1" cy="1395.2" r="6.4"/><circle cx="1335.6" cy="1366.2" r="6.4"/><circle cx="1354.6" cy="1367.8" r="6.4"/><circle cx="1378.8" cy="1373.7" r="6.4"/><circle cx="1386.4" cy="1375.4" r="6.4"/><circle cx="1400.9" cy="1373.5" r="6.4"/><circle cx="1228.1" cy="1382.9" r="6.4"/><circle cx="1234.8" cy="1382.9" r="6.4"/><circle cx="1218.1" cy="1392.8" r="6.4"/><circle cx="1249.6" cy="1395.2" r="6.4"/><circle cx="1365.4" cy="1393.6" r="6.4"/><circle cx="1383.9" cy="1392.3" r="6.4"/><circle cx="1388.0" cy="1395.8" r="6.4"/><circle cx="1271.9" cy="1409.2" r="6.4"/><circle cx="1253.1" cy="1418.4" r="6.4"/><circle cx="1298.8" cy="1410.3" r="6.4"/><circle cx="1295.5" cy="1417.8" r="6.4"/><circle cx="1312.2" cy="1420.5" r="6.4"/><circle cx="1284.5" cy="1425.3" r="6.4"/><circle cx="1275.1" cy="1434.7" r="6.4"/><circle cx="1358.4" cy="1411.9" r="6.4"/><circle cx="1371.3" cy="1427.2" r="6.4"/><circle cx="1216.0" cy="1435.0" r="6.4"/><circle cx="1303.1" cy="1451.4" r="6.4"/><circle cx="1306.8" cy="1455.4" r="6.4"/><circle cx="1319.4" cy="1448.4" r="6.4"/><circle cx="1356.3" cy="1449.5" r="6.4"/><circle cx="1369.7" cy="1443.6" r="6.4"/><circle cx="1390.1" cy="1438.8" r="6.4"/><circle cx="1394.7" cy="1439.9" r="6.4"/><circle cx="1395.0" cy="1452.2" r="6.4"/><circle cx="1277.3" cy="1474.2" r="6.4"/><circle cx="1360.3" cy="1478.8" r="6.4"/><circle cx="1292.3" cy="1490.9" r="6.4"/><circle cx="1304.7" cy="1493.6" r="6.4"/><circle cx="1279.1" cy="1503.8" r="6.4"/><circle cx="1326.2" cy="1540.9" r="6.4"/><circle cx="1338.0" cy="1564.0" r="6.4"/><circle cx="1323.5" cy="1570.4" r="6.4"/><circle cx="1330.5" cy="1585.0" r="6.4"/><circle cx="1321.6" cy="1668.8" r="6.4"/><circle cx="1570.8" cy="1137.8" r="6.4"/><circle cx="1529.9" cy="1157.2" r="6.4"/><circle cx="1528.3" cy="1167.4" r="6.4"/><circle cx="1548.7" cy="1158.8" r="6.4"/><circle cx="1556.3" cy="1156.6" r="6.4"/><circle cx="1581.5" cy="1159.9" r="6.4"/><circle cx="1633.6" cy="1169.0" r="6.4"/><circle cx="1552.0" cy="1174.9" r="6.4"/><circle cx="1558.1" cy="1178.7" r="6.4"/><circle cx="1564.9" cy="1172.8" r="6.4"/><circle cx="1554.1" cy="1186.2" r="6.4"/><circle cx="1438.0" cy="1187.8" r="6.4"/><circle cx="1428.9" cy="1192.9" r="6.4"/><circle cx="1413.8" cy="1206.9" r="6.4"/><circle cx="1574.5" cy="1202.3" r="6.4"/><circle cx="1567.0" cy="1210.4" r="6.4"/><circle cx="1598.7" cy="1205.0" r="6.4"/><circle cx="1458.2" cy="1221.7" r="6.4"/><circle cx="1508.4" cy="1215.7" r="6.4"/><circle cx="1576.1" cy="1219.0" r="6.4"/><circle cx="1572.4" cy="1228.4" r="6.4"/><circle cx="1578.8" cy="1237.2" r="6.4"/><circle cx="1568.9" cy="1242.6" r="6.4"/><circle cx="1561.6" cy="1249.9" r="6.4"/><circle cx="1564.3" cy="1248.0" r="6.4"/><circle cx="1548.7" cy="1228.6" r="6.4"/><circle cx="1546.6" cy="1247.5" r="6.4"/><circle cx="1517.3" cy="1236.2" r="6.4"/><circle cx="1506.3" cy="1239.4" r="6.4"/><circle cx="1500.4" cy="1243.2" r="6.4"/><circle cx="1446.6" cy="1249.9" r="6.4"/><circle cx="1441.8" cy="1252.6" r="6.4"/><circle cx="1439.9" cy="1262.0" r="6.4"/><circle cx="1433.2" cy="1263.3" r="6.4"/><circle cx="1472.4" cy="1257.9" r="6.4"/><circle cx="1481.6" cy="1263.3" r="6.4"/><circle cx="1483.7" cy="1257.9" r="6.4"/><circle cx="1489.6" cy="1255.2" r="6.4"/><circle cx="1513.8" cy="1266.0" r="6.4"/><circle cx="1533.7" cy="1257.9" r="6.4"/><circle cx="1618.6" cy="1250.7" r="6.4"/><circle cx="1627.2" cy="1255.5" r="6.4"/><circle cx="1631.5" cy="1250.7" r="6.4"/><circle cx="1600.3" cy="1264.1" r="6.4"/><circle cx="1601.9" cy="1272.7" r="6.4"/><circle cx="1594.4" cy="1282.7" r="6.4"/><circle cx="1606.2" cy="1284.8" r="6.4"/><circle cx="1579.9" cy="1273.3" r="6.4"/><circle cx="1586.9" cy="1270.6" r="6.4"/><circle cx="1557.6" cy="1275.4" r="6.4"/><circle cx="1640.1" cy="1275.4" r="6.4"/><circle cx="1454.7" cy="1275.9" r="6.4"/><circle cx="1448.8" cy="1279.4" r="6.4"/><circle cx="1419.7" cy="1287.5" r="6.4"/><circle cx="1426.5" cy="1284.0" r="6.4"/><circle cx="1435.9" cy="1283.5" r="6.4"/><circle cx="1441.8" cy="1288.3" r="6.4"/><circle cx="1420.8" cy="1298.2" r="6.4"/><circle cx="1478.3" cy="1286.1" r="6.4"/><circle cx="1484.8" cy="1298.2" r="6.4"/><circle cx="1470.8" cy="1300.1" r="6.4"/><circle cx="1532.1" cy="1287.0" r="6.4"/><circle cx="1519.2" cy="1300.9" r="6.4"/><circle cx="1626.1" cy="1284.5" r="6.4"/><circle cx="1490.7" cy="1306.3" r="6.4"/><circle cx="1497.7" cy="1307.6" r="6.4"/><circle cx="1504.4" cy="1307.6" r="6.4"/><circle cx="1492.3" cy="1313.0" r="6.4"/><circle cx="1499.0" cy="1325.9" r="6.4"/><circle cx="1585.3" cy="1305.0" r="6.4"/><circle cx="1583.1" cy="1315.7" r="6.4"/><circle cx="1593.3" cy="1316.8" r="6.4"/><circle cx="1622.4" cy="1301.2" r="6.4"/><circle cx="1629.9" cy="1302.8" r="6.4"/><circle cx="1617.0" cy="1309.8" r="6.4"/><circle cx="1609.5" cy="1320.5" r="6.4"/><circle cx="1412.2" cy="1314.4" r="6.4"/><circle cx="1414.9" cy="1327.8" r="6.4"/><circle cx="1417.1" cy="1337.7" r="6.4"/><circle cx="1430.5" cy="1321.1" r="6.4"/><circle cx="1456.3" cy="1319.7" r="6.4"/><circle cx="1464.1" cy="1323.8" r="6.4"/><circle cx="1460.6" cy="1326.5" r="6.4"/><circle cx="1509.8" cy="1320.5" r="6.4"/><circle cx="1522.9" cy="1320.5" r="6.4"/><circle cx="1539.3" cy="1322.7" r="6.4"/><circle cx="1511.1" cy="1332.9" r="6.4"/><circle cx="1521.3" cy="1333.4" r="6.4"/><circle cx="1589.0" cy="1334.5" r="6.4"/><circle cx="1445.0" cy="1342.0" r="6.4"/><circle cx="1452.0" cy="1349.3" r="6.4"/><circle cx="1432.1" cy="1350.1" r="6.4"/><circle cx="1467.0" cy="1341.8" r="6.4"/><circle cx="1487.5" cy="1339.4" r="6.4"/><circle cx="1465.4" cy="1356.6" r="6.4"/><circle cx="1477.0" cy="1359.2" r="6.4"/><circle cx="1535.8" cy="1346.9" r="6.4"/><circle cx="1525.1" cy="1354.9" r="6.4"/><circle cx="1526.7" cy="1367.3" r="6.4"/><circle cx="1515.1" cy="1370.0" r="6.4"/><circle cx="1502.5" cy="1360.0" r="6.4"/><circle cx="1591.2" cy="1360.9" r="6.4"/><circle cx="1620.7" cy="1356.0" r="6.4"/><circle cx="1635.3" cy="1358.2" r="6.4"/><circle cx="1613.2" cy="1368.4" r="6.4"/><circle cx="1607.8" cy="1375.4" r="6.4"/><circle cx="1596.6" cy="1384.2" r="6.4"/><circle cx="1624.0" cy="1380.2" r="6.4"/><circle cx="1423.5" cy="1374.3" r="6.4"/><circle cx="1450.6" cy="1379.4" r="6.4"/><circle cx="1461.7" cy="1382.3" r="6.4"/><circle cx="1543.4" cy="1385.6" r="6.4"/><circle cx="1545.0" cy="1383.4" r="6.4"/><circle cx="1474.6" cy="1400.6" r="6.4"/><circle cx="1611.1" cy="1395.0" r="6.4"/><circle cx="1615.4" cy="1411.1" r="6.4"/><circle cx="1541.2" cy="1416.5" r="6.4"/><circle cx="1537.4" cy="1424.8" r="6.4"/><circle cx="1642.8" cy="1423.2" r="6.4"/><circle cx="1641.7" cy="1438.2" r="6.4"/><circle cx="1469.2" cy="1443.6" r="6.4"/><circle cx="1696.6" cy="1112.3" r="6.4"/><circle cx="1681.5" cy="1125.7" r="6.4"/><circle cx="1694.7" cy="1171.9" r="6.4"/><circle cx="1688.5" cy="1177.3" r="6.4"/><circle cx="1711.1" cy="1186.7" r="6.4"/><circle cx="1722.4" cy="1193.4" r="6.4"/><circle cx="1706.3" cy="1198.8" r="6.4"/><circle cx="1698.7" cy="1197.5" r="6.4"/><circle cx="1692.8" cy="1201.5" r="6.4"/><circle cx="1676.2" cy="1199.4" r="6.4"/><circle cx="1702.0" cy="1212.3" r="6.4"/><circle cx="1718.6" cy="1214.9" r="6.4"/><circle cx="1652.3" cy="1221.1" r="6.4"/><circle cx="1685.3" cy="1238.3" r="6.4"/><circle cx="1707.3" cy="1235.6" r="6.4"/><circle cx="1679.9" cy="1253.9" r="6.4"/><circle cx="1731.5" cy="1245.0" r="6.4"/><circle cx="1790.1" cy="1235.6" r="6.4"/><circle cx="1800.3" cy="1237.8" r="6.4"/><circle cx="1823.4" cy="1232.4" r="6.4"/><circle cx="1832.0" cy="1233.8" r="6.4"/><circle cx="1843.8" cy="1233.2" r="6.4"/><circle cx="1766.5" cy="1247.5" r="6.4"/><circle cx="1782.0" cy="1249.1" r="6.4"/><circle cx="1787.4" cy="1250.1" r="6.4"/><circle cx="1848.1" cy="1252.6" r="6.4"/><circle cx="1849.8" cy="1263.3" r="6.4"/><circle cx="1700.1" cy="1264.1" r="6.4"/><circle cx="1709.5" cy="1269.0" r="6.4"/><circle cx="1714.9" cy="1276.7" r="6.4"/><circle cx="1724.5" cy="1278.1" r="6.4"/><circle cx="1744.4" cy="1264.1" r="6.4"/><circle cx="1755.7" cy="1264.1" r="6.4"/><circle cx="1769.7" cy="1264.7" r="6.4"/><circle cx="1792.3" cy="1264.1" r="6.4"/><circle cx="1797.6" cy="1272.2" r="6.4"/><circle cx="1784.7" cy="1275.4" r="6.4"/><circle cx="1794.4" cy="1282.9" r="6.4"/><circle cx="1649.0" cy="1273.3" r="6.4"/><circle cx="1670.5" cy="1273.3" r="6.4"/><circle cx="1659.5" cy="1285.1" r="6.4"/><circle cx="1740.7" cy="1282.9" r="6.4"/><circle cx="1757.3" cy="1283.5" r="6.4"/><circle cx="1753.6" cy="1292.1" r="6.4"/><circle cx="1838.5" cy="1282.4" r="6.4"/><circle cx="1851.4" cy="1284.0" r="6.4"/><circle cx="1829.9" cy="1288.3" r="6.4"/><circle cx="1819.1" cy="1291.5" r="6.4"/><circle cx="1811.6" cy="1291.5" r="6.4"/><circle cx="1671.9" cy="1296.4" r="6.4"/><circle cx="1678.6" cy="1298.2" r="6.4"/><circle cx="1684.0" cy="1292.1" r="6.4"/><circle cx="1720.2" cy="1298.2" r="6.4"/><circle cx="1653.1" cy="1304.4" r="6.4"/><circle cx="1661.1" cy="1307.6" r="6.4"/><circle cx="1690.7" cy="1307.1" r="6.4"/><circle cx="1760.5" cy="1304.4" r="6.4"/><circle cx="1771.3" cy="1304.4" r="6.4"/><circle cx="1779.4" cy="1309.8" r="6.4"/><circle cx="1776.1" cy="1314.4" r="6.4"/><circle cx="1782.0" cy="1323.2" r="6.4"/><circle cx="1751.9" cy="1313.6" r="6.4"/><circle cx="1760.0" cy="1315.7" r="6.4"/><circle cx="1801.4" cy="1311.7" r="6.4"/><circle cx="1819.7" cy="1318.9" r="6.4"/><circle cx="1827.7" cy="1313.0" r="6.4"/><circle cx="1835.8" cy="1309.0" r="6.4"/><circle cx="1846.0" cy="1307.6" r="6.4"/><circle cx="1840.6" cy="1318.9" r="6.4"/><circle cx="1674.0" cy="1317.1" r="6.4"/><circle cx="1668.6" cy="1331.3" r="6.4"/><circle cx="1664.3" cy="1339.9" r="6.4"/><circle cx="1703.6" cy="1334.0" r="6.4"/><circle cx="1728.3" cy="1329.1" r="6.4"/><circle cx="1736.4" cy="1331.8" r="6.4"/><circle cx="1739.6" cy="1337.7" r="6.4"/><circle cx="1735.3" cy="1348.0" r="6.4"/><circle cx="1732.6" cy="1349.0" r="6.4"/><circle cx="1764.8" cy="1328.6" r="6.4"/><circle cx="1789.0" cy="1334.0" r="6.4"/><circle cx="1825.6" cy="1332.4" r="6.4"/><circle cx="1776.7" cy="1341.2" r="6.4"/><circle cx="1773.4" cy="1345.8" r="6.4"/><circle cx="1807.8" cy="1342.6" r="6.4"/><circle cx="1812.1" cy="1342.6" r="6.4"/><circle cx="1796.0" cy="1349.8" r="6.4"/><circle cx="1762.7" cy="1356.0" r="6.4"/><circle cx="1834.7" cy="1345.8" r="6.4"/><circle cx="1842.8" cy="1350.1" r="6.4"/><circle cx="1650.4" cy="1357.9" r="6.4"/><circle cx="1667.0" cy="1360.6" r="6.4"/><circle cx="1687.2" cy="1359.2" r="6.4"/><circle cx="1729.9" cy="1360.3" r="6.4"/><circle cx="1725.6" cy="1368.1" r="6.4"/><circle cx="1803.0" cy="1368.1" r="6.4"/><circle cx="1807.6" cy="1374.3" r="6.4"/><circle cx="1814.8" cy="1378.9" r="6.4"/><circle cx="1833.1" cy="1385.6" r="6.4"/><circle cx="1663.0" cy="1382.9" r="6.4"/><circle cx="1717.0" cy="1381.5" r="6.4"/><circle cx="1742.5" cy="1388.5" r="6.4"/><circle cx="1747.9" cy="1399.0" r="6.4"/><circle cx="1746.0" cy="1405.5" r="6.4"/><circle cx="1655.7" cy="1429.9" r="6.4"/><circle cx="1749.8" cy="1445.2" r="6.4"/></g>
<path d="M258.0 1041V1025M258.0 1685V1701M302.3 1041V1034M302.3 1685V1692M346.6 1041V1034M346.6 1685V1692M391.0 1041V1025M391.0 1685V1701M435.3 1041V1034M435.3 1685V1692M479.6 1041V1034M479.6 1685V1692M523.9 1041V1025M523.9 1685V1701M568.2 1041V1034M568.2 1685V1692M612.6 1041V1034M612.6 1685V1692M656.9 1041V1025M656.9 1685V1701M701.2 1041V1034M701.2 1685V1692M745.5 1041V1034M745.5 1685V1692M789.8 1041V1025M789.8 1685V1701M834.2 1041V1034M834.2 1685V1692M878.5 1041V1034M878.5 1685V1692M922.8 1041V1025M922.8 1685V1701M967.1 1041V1034M967.1 1685V1692M1011.4 1041V1034M1011.4 1685V1692M1055.8 1041V1025M1055.8 1685V1701M1100.1 1041V1034M1100.1 1685V1692M1144.4 1041V1034M1144.4 1685V1692M1188.7 1041V1025M1188.7 1685V1701M1233.0 1041V1034M1233.0 1685V1692M1277.4 1041V1034M1277.4 1685V1692M1321.7 1041V1025M1321.7 1685V1701M1366.0 1041V1034M1366.0 1685V1692M1410.3 1041V1034M1410.3 1685V1692M1454.6 1041V1025M1454.6 1685V1701M1499.0 1041V1034M1499.0 1685V1692M1543.3 1041V1034M1543.3 1685V1692M1587.6 1041V1025M1587.6 1685V1701M1631.9 1041V1034M1631.9 1685V1692M1676.2 1041V1034M1676.2 1685V1692M1720.6 1041V1025M1720.6 1685V1701M1764.9 1041V1034M1764.9 1685V1692M1809.2 1041V1034M1809.2 1685V1692M1853.5 1041V1025M1853.5 1685V1701M223 1125.7H207M1887 1125.7H1903M223 1248.9H207M1887 1248.9H1903M223 1372.2H207M1887 1372.2H1903M223 1495.5H207M1887 1495.5H1903M223 1618.7H207M1887 1618.7H1903" stroke="#000" stroke-width="2" fill="none"/>
<rect x="226" y="1044" width="1657.5" height="638.0" fill="none" stroke="#000" stroke-width="6"/>
<text transform="translate(245.96 1748.90) scale(1 1.06)" font-size="43.3" font-weight="bold">0</text>
<text transform="translate(378.92 1748.90) scale(1 1.06)" font-size="43.3" font-weight="bold">6</text>
<path transform="translate(499.84 1748.90) scale(43.3 -45.898)" d="M0.236 0L0.378 0L0.378 0.65L0.27 0.65C0.252 0.588 0.19 0.545 0.072 0.541L0.072 0.45L0.236 0.45Z"/><text transform="translate(523.92 1748.90) scale(1 1.06)" font-size="43.3" font-weight="bold">2</text>
<path transform="translate(632.80 1748.90) scale(43.3 -45.898)" d="M0.236 0L0.378 0L0.378 0.65L0.27 0.65C0.252 0.588 0.19 0.545 0.072 0.541L0.072 0.45L0.236 0.45Z"/><text transform="translate(656.88 1748.90) scale(1 1.06)" font-size="43.3" font-weight="bold">8</text>
<text transform="translate(765.76 1748.90) scale(1 1.06)" font-size="43.3" font-weight="bold">24</text>
<text transform="translate(898.72 1748.90) scale(1 1.06)" font-size="43.3" font-weight="bold">30</text>
<text transform="translate(1031.68 1748.90) scale(1 1.06)" font-size="43.3" font-weight="bold">36</text>
<text transform="translate(1164.64 1748.90) scale(1 1.06)" font-size="43.3" font-weight="bold">42</text>
<text transform="translate(1297.60 1748.90) scale(1 1.06)" font-size="43.3" font-weight="bold">48</text>
<text transform="translate(1430.56 1748.90) scale(1 1.06)" font-size="43.3" font-weight="bold">54</text>
<text transform="translate(1563.52 1748.90) scale(1 1.06)" font-size="43.3" font-weight="bold">60</text>
<text transform="translate(1696.48 1748.90) scale(1 1.06)" font-size="43.3" font-weight="bold">66</text>
<text transform="translate(1829.44 1748.90) scale(1 1.06)" font-size="43.3" font-weight="bold">72</text>
<path transform="translate(142.44 1141.85) scale(43.3 -45.898)" d="M0.236 0L0.378 0L0.378 0.65L0.27 0.65C0.252 0.588 0.19 0.545 0.072 0.541L0.072 0.45L0.236 0.45Z"/><text transform="translate(166.52 1141.85) scale(1 1.06)" font-size="43.3" font-weight="bold">8</text>
<text transform="translate(166.52 1265.13) scale(1 1.06)" font-size="43.3" font-weight="bold">9</text>
<text transform="translate(166.52 1388.40) scale(1 1.06)" font-size="43.3" font-weight="bold">0</text>
<text transform="translate(166.52 1511.67) scale(1 1.06)" font-size="43.3" font-weight="bold">9</text>
<rect x="143.6" y="1499.1" width="21.2" height="4.9"/>
<path transform="translate(142.44 1634.95) scale(43.3 -45.898)" d="M0.236 0L0.378 0L0.378 0.65L0.27 0.65C0.252 0.588 0.19 0.545 0.072 0.541L0.072 0.45L0.236 0.45Z"/><text transform="translate(166.52 1634.95) scale(1 1.06)" font-size="43.3" font-weight="bold">8</text>
<rect x="120.8" y="1622.3" width="21.2" height="4.9"/>
<text transform="translate(90 1363.0) rotate(-90) scale(1 1.06)" font-size="42.5" text-anchor="middle">North (mm)</text>
<g fill="#0000ff"><circle cx="437.0" cy="1914.6" r="6.4"/><circle cx="311.5" cy="1954.4" r="6.4"/><circle cx="418.7" cy="1958.1" r="6.4"/><circle cx="315.0" cy="2002.5" r="6.4"/><circle cx="451.8" cy="1970.2" r="6.4"/><circle cx="435.1" cy="1987.1" r="6.4"/><circle cx="427.8" cy="1997.4" r="6.4"/><circle cx="448.0" cy="1992.5" r="6.4"/><circle cx="326.3" cy="2031.2" r="6.4"/><circle cx="442.6" cy="2019.4" r="6.4"/><circle cx="453.4" cy="2014.8" r="6.4"/><circle cx="457.4" cy="2024.2" r="6.4"/><circle cx="373.6" cy="2035.0" r="6.4"/><circle cx="378.9" cy="2037.7" r="6.4"/><circle cx="381.4" cy="2047.1" r="6.4"/><circle cx="396.1" cy="2036.9" r="6.4"/><circle cx="409.0" cy="2034.2" r="6.4"/><circle cx="414.9" cy="2046.3" r="6.4"/><circle cx="431.3" cy="2031.5" r="6.4"/><circle cx="449.9" cy="2044.9" r="6.4"/><circle cx="258.0" cy="2056.7" r="6.4"/><circle cx="276.3" cy="2060.2" r="6.4"/><circle cx="307.5" cy="2066.9" r="6.4"/><circle cx="327.9" cy="2065.9" r="6.4"/><circle cx="333.8" cy="2069.4" r="6.4"/><circle cx="397.7" cy="2057.0" r="6.4"/><circle cx="385.4" cy="2069.9" r="6.4"/><circle cx="403.7" cy="2072.6" r="6.4"/><circle cx="446.1" cy="2069.4" r="6.4"/><circle cx="370.3" cy="2078.0" r="6.4"/><circle cx="390.2" cy="2080.1" r="6.4"/><circle cx="389.1" cy="2086.0" r="6.4"/><circle cx="425.7" cy="2083.9" r="6.4"/><circle cx="305.9" cy="2092.2" r="6.4"/><circle cx="372.5" cy="2097.9" r="6.4"/><circle cx="399.4" cy="2093.6" r="6.4"/><circle cx="406.9" cy="2099.5" r="6.4"/><circle cx="421.9" cy="2099.5" r="6.4"/><circle cx="444.0" cy="2091.1" r="6.4"/><circle cx="456.1" cy="2096.2" r="6.4"/><circle cx="461.4" cy="2104.8" r="6.4"/><circle cx="458.7" cy="2114.2" r="6.4"/><circle cx="300.2" cy="2107.3" r="6.4"/><circle cx="347.2" cy="2114.2" r="6.4"/><circle cx="351.3" cy="2111.6" r="6.4"/><circle cx="360.7" cy="2110.7" r="6.4"/><circle cx="429.5" cy="2114.0" r="6.4"/><circle cx="402.3" cy="2118.8" r="6.4"/><circle cx="412.3" cy="2123.1" r="6.4"/><circle cx="420.3" cy="2121.5" r="6.4"/><circle cx="433.2" cy="2126.3" r="6.4"/><circle cx="441.3" cy="2122.0" r="6.4"/><circle cx="283.8" cy="2121.0" r="6.4"/><circle cx="289.2" cy="2130.4" r="6.4"/><circle cx="286.5" cy="2137.6" r="6.4"/><circle cx="282.2" cy="2143.8" r="6.4"/><circle cx="285.4" cy="2145.1" r="6.4"/><circle cx="280.1" cy="2151.9" r="6.4"/><circle cx="317.7" cy="2124.2" r="6.4"/><circle cx="323.0" cy="2123.6" r="6.4"/><circle cx="338.9" cy="2125.8" r="6.4"/><circle cx="324.1" cy="2138.4" r="6.4"/><circle cx="341.9" cy="2138.4" r="6.4"/><circle cx="352.1" cy="2139.2" r="6.4"/><circle cx="344.5" cy="2146.5" r="6.4"/><circle cx="339.7" cy="2145.1" r="6.4"/><circle cx="374.6" cy="2130.4" r="6.4"/><circle cx="380.0" cy="2134.4" r="6.4"/><circle cx="394.0" cy="2129.6" r="6.4"/><circle cx="405.3" cy="2132.2" r="6.4"/><circle cx="265.5" cy="2155.4" r="6.4"/><circle cx="293.0" cy="2157.5" r="6.4"/><circle cx="295.6" cy="2164.5" r="6.4"/><circle cx="303.7" cy="2169.9" r="6.4"/><circle cx="301.6" cy="2173.4" r="6.4"/><circle cx="330.6" cy="2153.2" r="6.4"/><circle cx="331.1" cy="2159.7" r="6.4"/><circle cx="337.0" cy="2163.4" r="6.4"/><circle cx="345.1" cy="2159.9" r="6.4"/><circle cx="363.4" cy="2147.0" r="6.4"/><circle cx="364.7" cy="2154.8" r="6.4"/><circle cx="359.1" cy="2160.7" r="6.4"/><circle cx="383.2" cy="2160.2" r="6.4"/><circle cx="387.0" cy="2171.5" r="6.4"/><circle cx="368.7" cy="2168.8" r="6.4"/><circle cx="366.6" cy="2178.5" r="6.4"/><circle cx="416.6" cy="2149.7" r="6.4"/><circle cx="412.8" cy="2165.0" r="6.4"/><circle cx="424.1" cy="2161.8" r="6.4"/><circle cx="278.4" cy="2166.1" r="6.4"/><circle cx="274.7" cy="2177.9" r="6.4"/><circle cx="319.8" cy="2172.6" r="6.4"/><circle cx="438.6" cy="2181.7" r="6.4"/><circle cx="463.3" cy="2181.4" r="6.4"/><circle cx="298.3" cy="2187.3" r="6.4"/><circle cx="357.4" cy="2189.2" r="6.4"/><circle cx="335.4" cy="2196.7" r="6.4"/><circle cx="353.7" cy="2203.7" r="6.4"/><circle cx="269.3" cy="2197.5" r="6.4"/><circle cx="272.5" cy="2199.4" r="6.4"/><circle cx="266.6" cy="2208.3" r="6.4"/><circle cx="262.1" cy="2218.2" r="6.4"/><circle cx="313.4" cy="2222.0" r="6.4"/><circle cx="291.1" cy="2229.8" r="6.4"/><circle cx="296.4" cy="2243.5" r="6.4"/><circle cx="309.6" cy="2301.5" r="6.4"/><circle cx="496.2" cy="1925.9" r="6.4"/><circle cx="553.1" cy="1923.7" r="6.4"/><circle cx="560.7" cy="1965.4" r="6.4"/><circle cx="625.1" cy="1969.7" r="6.4"/><circle cx="691.5" cy="1957.6" r="6.4"/><circle cx="695.6" cy="1967.3" r="6.4"/><circle cx="696.6" cy="1981.2" r="6.4"/><circle cx="479.5" cy="1990.9" r="6.4"/><circle cx="557.2" cy="1986.9" r="6.4"/><circle cx="523.6" cy="1999.0" r="6.4"/><circle cx="533.0" cy="1995.7" r="6.4"/><circle cx="547.0" cy="1999.2" r="6.4"/><circle cx="632.1" cy="1995.5" r="6.4"/><circle cx="687.0" cy="1992.0" r="6.4"/><circle cx="693.4" cy="2001.7" r="6.4"/><circle cx="529.5" cy="2012.9" r="6.4"/><circle cx="536.2" cy="2009.4" r="6.4"/><circle cx="540.2" cy="2016.7" r="6.4"/><circle cx="534.9" cy="2018.9" r="6.4"/><circle cx="531.1" cy="2029.1" r="6.4"/><circle cx="490.5" cy="2018.9" r="6.4"/><circle cx="608.5" cy="2019.9" r="6.4"/><circle cx="656.3" cy="2018.9" r="6.4"/><circle cx="659.5" cy="2019.4" r="6.4"/><circle cx="684.3" cy="2015.4" r="6.4"/><circle cx="682.1" cy="2024.2" r="6.4"/><circle cx="679.4" cy="2040.3" r="6.4"/><circle cx="697.7" cy="2042.5" r="6.4"/><circle cx="469.0" cy="2034.4" r="6.4"/><circle cx="498.1" cy="2043.6" r="6.4"/><circle cx="525.7" cy="2046.3" r="6.4"/><circle cx="487.0" cy="2050.3" r="6.4"/><circle cx="475.7" cy="2056.5" r="6.4"/><circle cx="482.5" cy="2067.2" r="6.4"/><circle cx="494.0" cy="2066.7" r="6.4"/><circle cx="520.1" cy="2065.1" r="6.4"/><circle cx="551.5" cy="2064.5" r="6.4"/><circle cx="634.3" cy="2065.1" r="6.4"/><circle cx="660.6" cy="2058.6" r="6.4"/><circle cx="672.4" cy="2064.5" r="6.4"/><circle cx="677.3" cy="2074.7" r="6.4"/><circle cx="662.5" cy="2072.1" r="6.4"/><circle cx="650.4" cy="2075.8" r="6.4"/><circle cx="647.2" cy="2081.2" r="6.4"/><circle cx="690.2" cy="2060.8" r="6.4"/><circle cx="699.3" cy="2056.5" r="6.4"/><circle cx="700.1" cy="2081.2" r="6.4"/><circle cx="508.5" cy="2077.4" r="6.4"/><circle cx="516.1" cy="2075.3" r="6.4"/><circle cx="511.2" cy="2085.5" r="6.4"/><circle cx="518.7" cy="2090.9" r="6.4"/><circle cx="515.0" cy="2099.5" r="6.4"/><circle cx="542.1" cy="2084.7" r="6.4"/><circle cx="577.3" cy="2088.7" r="6.4"/><circle cx="578.9" cy="2100.5" r="6.4"/><circle cx="477.1" cy="2090.1" r="6.4"/><circle cx="481.7" cy="2096.2" r="6.4"/><circle cx="628.4" cy="2098.1" r="6.4"/><circle cx="630.5" cy="2101.6" r="6.4"/><circle cx="671.4" cy="2105.4" r="6.4"/><circle cx="675.1" cy="2123.1" r="6.4"/><circle cx="473.6" cy="2112.9" r="6.4"/><circle cx="512.8" cy="2116.9" r="6.4"/><circle cx="522.0" cy="2121.0" r="6.4"/><circle cx="527.6" cy="2110.7" r="6.4"/><circle cx="555.0" cy="2112.9" r="6.4"/><circle cx="562.3" cy="2117.2" r="6.4"/><circle cx="600.7" cy="2124.2" r="6.4"/><circle cx="610.1" cy="2125.0" r="6.4"/><circle cx="621.4" cy="2118.3" r="6.4"/><circle cx="640.2" cy="2117.7" r="6.4"/><circle cx="649.3" cy="2112.9" r="6.4"/><circle cx="643.4" cy="2131.2" r="6.4"/><circle cx="499.4" cy="2134.9" r="6.4"/><circle cx="538.1" cy="2130.4" r="6.4"/><circle cx="549.4" cy="2134.9" r="6.4"/><circle cx="567.1" cy="2136.5" r="6.4"/><circle cx="573.0" cy="2141.1" r="6.4"/><circle cx="584.8" cy="2136.0" r="6.4"/><circle cx="580.5" cy="2150.5" r="6.4"/><circle cx="588.6" cy="2151.6" r="6.4"/><circle cx="663.8" cy="2138.4" r="6.4"/><circle cx="645.6" cy="2143.8" r="6.4"/><circle cx="637.0" cy="2148.4" r="6.4"/><circle cx="635.9" cy="2153.2" r="6.4"/><circle cx="654.7" cy="2152.1" r="6.4"/><circle cx="544.0" cy="2152.4" r="6.4"/><circle cx="618.2" cy="2154.5" r="6.4"/><circle cx="627.3" cy="2164.0" r="6.4"/><circle cx="616.0" cy="2168.8" r="6.4"/><circle cx="507.2" cy="2162.1" r="6.4"/><circle cx="559.0" cy="2160.7" r="6.4"/><circle cx="565.0" cy="2166.1" r="6.4"/><circle cx="469.8" cy="2176.9" r="6.4"/><circle cx="492.4" cy="2176.3" r="6.4"/><circle cx="505.3" cy="2177.9" r="6.4"/><circle cx="488.6" cy="2187.3" r="6.4"/><circle cx="653.1" cy="2176.9" r="6.4"/><circle cx="668.1" cy="2172.6" r="6.4"/><circle cx="612.3" cy="2182.0" r="6.4"/><circle cx="614.4" cy="2189.5" r="6.4"/><circle cx="603.7" cy="2196.2" r="6.4"/><circle cx="599.4" cy="2206.9" r="6.4"/><circle cx="592.4" cy="2211.0" r="6.4"/><circle cx="586.5" cy="2211.2" r="6.4"/><circle cx="591.3" cy="2216.4" r="6.4"/><circle cx="575.2" cy="2213.7" r="6.4"/><circle cx="623.5" cy="2205.9" r="6.4"/><circle cx="501.5" cy="2212.3" r="6.4"/><circle cx="503.4" cy="2236.5" r="6.4"/><circle cx="570.9" cy="2228.4" r="6.4"/><circle cx="582.7" cy="2233.3" r="6.4"/><circle cx="589.7" cy="2230.6" r="6.4"/><circle cx="598.3" cy="2234.4" r="6.4"/><circle cx="595.6" cy="2246.7" r="6.4"/><circle cx="619.8" cy="2260.7" r="6.4"/><circle cx="666.0" cy="2313.6" r="6.4"/><circle cx="606.9" cy="2326.3" r="6.4"/><circle cx="904.1" cy="1931.3" r="6.4"/><circle cx="837.5" cy="1972.4" r="6.4"/><circle cx="855.8" cy="2009.2" r="6.4"/><circle cx="713.1" cy="1984.5" r="6.4"/><circle cx="711.2" cy="1986.1" r="6.4"/><circle cx="900.4" cy="1987.9" r="6.4"/><circle cx="899.3" cy="1991.4" r="6.4"/><circle cx="919.2" cy="1996.8" r="6.4"/><circle cx="923.5" cy="1995.7" r="6.4"/><circle cx="936.1" cy="1985.8" r="6.4"/><circle cx="728.7" cy="2014.3" r="6.4"/><circle cx="708.5" cy="2021.5" r="6.4"/><circle cx="717.7" cy="2029.6" r="6.4"/><circle cx="819.2" cy="2031.7" r="6.4"/><circle cx="824.6" cy="2039.3" r="6.4"/><circle cx="822.5" cy="2045.7" r="6.4"/><circle cx="793.2" cy="2038.2" r="6.4"/><circle cx="905.2" cy="2021.0" r="6.4"/><circle cx="915.4" cy="2016.7" r="6.4"/><circle cx="921.3" cy="2022.9" r="6.4"/><circle cx="911.1" cy="2030.1" r="6.4"/><circle cx="932.6" cy="2032.3" r="6.4"/><circle cx="706.9" cy="2061.8" r="6.4"/><circle cx="714.4" cy="2063.2" r="6.4"/><circle cx="723.0" cy="2065.1" r="6.4"/><circle cx="717.1" cy="2069.9" r="6.4"/><circle cx="719.8" cy="2075.8" r="6.4"/><circle cx="711.2" cy="2075.3" r="6.4"/><circle cx="801.0" cy="2055.9" r="6.4"/><circle cx="796.4" cy="2062.4" r="6.4"/><circle cx="806.3" cy="2064.0" r="6.4"/><circle cx="815.5" cy="2057.0" r="6.4"/><circle cx="830.5" cy="2056.5" r="6.4"/><circle cx="826.2" cy="2066.7" r="6.4"/><circle cx="850.4" cy="2053.8" r="6.4"/><circle cx="852.0" cy="2060.8" r="6.4"/><circle cx="862.2" cy="2057.0" r="6.4"/><circle cx="909.0" cy="2052.4" r="6.4"/><circle cx="906.8" cy="2057.0" r="6.4"/><circle cx="917.3" cy="2065.1" r="6.4"/><circle cx="931.6" cy="2061.8" r="6.4"/><circle cx="754.7" cy="2071.2" r="6.4"/><circle cx="758.0" cy="2069.4" r="6.4"/><circle cx="732.2" cy="2082.8" r="6.4"/><circle cx="748.8" cy="2086.0" r="6.4"/><circle cx="791.3" cy="2078.5" r="6.4"/><circle cx="809.6" cy="2080.1" r="6.4"/><circle cx="817.6" cy="2086.0" r="6.4"/><circle cx="807.9" cy="2090.3" r="6.4"/><circle cx="894.5" cy="2083.3" r="6.4"/><circle cx="898.8" cy="2086.6" r="6.4"/><circle cx="929.4" cy="2089.3" r="6.4"/><circle cx="725.7" cy="2093.0" r="6.4"/><circle cx="721.2" cy="2098.7" r="6.4"/><circle cx="736.5" cy="2095.2" r="6.4"/><circle cx="740.2" cy="2103.2" r="6.4"/><circle cx="831.6" cy="2099.5" r="6.4"/><circle cx="841.8" cy="2098.4" r="6.4"/><circle cx="872.4" cy="2091.4" r="6.4"/><circle cx="876.2" cy="2100.0" r="6.4"/><circle cx="882.6" cy="2108.1" r="6.4"/><circle cx="874.3" cy="2115.0" r="6.4"/><circle cx="725.2" cy="2111.3" r="6.4"/><circle cx="770.9" cy="2105.6" r="6.4"/><circle cx="774.6" cy="2117.7" r="6.4"/><circle cx="795.6" cy="2109.7" r="6.4"/><circle cx="802.6" cy="2108.9" r="6.4"/><circle cx="813.9" cy="2114.0" r="6.4"/><circle cx="857.9" cy="2112.9" r="6.4"/><circle cx="924.6" cy="2109.7" r="6.4"/><circle cx="933.7" cy="2106.2" r="6.4"/><circle cx="743.5" cy="2127.7" r="6.4"/><circle cx="752.6" cy="2132.2" r="6.4"/><circle cx="776.8" cy="2139.8" r="6.4"/><circle cx="789.7" cy="2134.9" r="6.4"/><circle cx="798.3" cy="2129.6" r="6.4"/><circle cx="804.7" cy="2135.5" r="6.4"/><circle cx="821.4" cy="2131.2" r="6.4"/><circle cx="863.3" cy="2130.1" r="6.4"/><circle cx="891.2" cy="2123.1" r="6.4"/><circle cx="887.5" cy="2130.1" r="6.4"/><circle cx="913.3" cy="2131.7" r="6.4"/><circle cx="738.1" cy="2143.8" r="6.4"/><circle cx="731.1" cy="2150.5" r="6.4"/><circle cx="741.3" cy="2152.7" r="6.4"/><circle cx="759.6" cy="2150.0" r="6.4"/><circle cx="769.8" cy="2154.5" r="6.4"/><circle cx="761.7" cy="2159.1" r="6.4"/><circle cx="763.3" cy="2168.8" r="6.4"/><circle cx="835.4" cy="2149.2" r="6.4"/><circle cx="828.4" cy="2155.4" r="6.4"/><circle cx="883.7" cy="2144.6" r="6.4"/><circle cx="879.4" cy="2153.2" r="6.4"/><circle cx="896.6" cy="2140.3" r="6.4"/><circle cx="893.1" cy="2159.1" r="6.4"/><circle cx="877.8" cy="2167.7" r="6.4"/><circle cx="889.1" cy="2174.2" r="6.4"/><circle cx="928.1" cy="2167.2" r="6.4"/><circle cx="935.3" cy="2161.8" r="6.4"/><circle cx="936.1" cy="2174.7" r="6.4"/><circle cx="747.2" cy="2183.8" r="6.4"/><circle cx="765.5" cy="2182.2" r="6.4"/><circle cx="778.4" cy="2177.9" r="6.4"/><circle cx="784.8" cy="2180.1" r="6.4"/><circle cx="787.5" cy="2191.4" r="6.4"/><circle cx="767.6" cy="2199.4" r="6.4"/><circle cx="833.7" cy="2180.1" r="6.4"/><circle cx="845.6" cy="2177.4" r="6.4"/><circle cx="859.5" cy="2183.3" r="6.4"/><circle cx="867.6" cy="2184.9" r="6.4"/><circle cx="854.2" cy="2190.8" r="6.4"/><circle cx="864.4" cy="2189.5" r="6.4"/><circle cx="846.6" cy="2197.5" r="6.4"/><circle cx="869.7" cy="2203.2" r="6.4"/><circle cx="745.3" cy="2222.0" r="6.4"/><circle cx="782.1" cy="2226.3" r="6.4"/><circle cx="885.3" cy="2222.0" r="6.4"/><circle cx="780.0" cy="2240.5" r="6.4"/><circle cx="773.0" cy="2249.1" r="6.4"/><circle cx="756.1" cy="2254.0" r="6.4"/><circle cx="751.0" cy="2258.5" r="6.4"/><circle cx="848.3" cy="2234.6" r="6.4"/><circle cx="839.7" cy="2244.0" r="6.4"/><circle cx="843.4" cy="2289.4" r="6.4"/><circle cx="786.2" cy="2313.4" r="6.4"/><circle cx="959.6" cy="1872.4" r="6.4"/><circle cx="952.3" cy="1916.7" r="6.4"/><circle cx="949.1" cy="1943.6" r="6.4"/><circle cx="955.8" cy="1940.4" r="6.4"/><circle cx="950.4" cy="1951.1" r="6.4"/><circle cx="965.2" cy="1948.2" r="6.4"/><circle cx="977.8" cy="1939.0" r="6.4"/><circle cx="957.7" cy="1967.0" r="6.4"/><circle cx="981.6" cy="1964.3" r="6.4"/><circle cx="963.3" cy="1979.4" r="6.4"/><circle cx="1039.1" cy="1961.6" r="6.4"/><circle cx="1026.2" cy="1982.3" r="6.4"/><circle cx="954.2" cy="2000.8" r="6.4"/><circle cx="974.4" cy="1995.7" r="6.4"/><circle cx="1013.0" cy="1999.5" r="6.4"/><circle cx="1072.4" cy="2015.1" r="6.4"/><circle cx="987.0" cy="2019.4" r="6.4"/><circle cx="985.4" cy="2025.6" r="6.4"/><circle cx="983.2" cy="2033.9" r="6.4"/><circle cx="976.8" cy="2042.5" r="6.4"/><circle cx="966.6" cy="2047.3" r="6.4"/><circle cx="991.0" cy="2046.8" r="6.4"/><circle cx="961.7" cy="2031.7" r="6.4"/><circle cx="946.9" cy="2044.1" r="6.4"/><circle cx="1040.7" cy="2031.5" r="6.4"/><circle cx="1057.1" cy="2037.7" r="6.4"/><circle cx="1066.5" cy="2037.1" r="6.4"/><circle cx="1076.7" cy="2042.5" r="6.4"/><circle cx="1077.3" cy="2044.6" r="6.4"/><circle cx="972.5" cy="2063.2" r="6.4"/><circle cx="996.7" cy="2059.7" r="6.4"/><circle cx="1035.3" cy="2062.4" r="6.4"/><circle cx="1049.9" cy="2066.4" r="6.4"/><circle cx="1054.2" cy="2064.0" r="6.4"/><circle cx="1052.0" cy="2075.3" r="6.4"/><circle cx="1061.7" cy="2081.7" r="6.4"/><circle cx="1138.5" cy="2067.2" r="6.4"/><circle cx="945.1" cy="2074.5" r="6.4"/><circle cx="989.1" cy="2078.8" r="6.4"/><circle cx="1000.4" cy="2089.3" r="6.4"/><circle cx="1007.4" cy="2095.4" r="6.4"/><circle cx="1010.1" cy="2099.5" r="6.4"/><circle cx="994.0" cy="2098.1" r="6.4"/><circle cx="992.4" cy="2108.9" r="6.4"/><circle cx="1011.7" cy="2112.4" r="6.4"/><circle cx="1001.5" cy="2117.7" r="6.4"/><circle cx="998.3" cy="2122.3" r="6.4"/><circle cx="1044.5" cy="2093.6" r="6.4"/><circle cx="1045.6" cy="2097.3" r="6.4"/><circle cx="1059.3" cy="2102.7" r="6.4"/><circle cx="1070.8" cy="2102.1" r="6.4"/><circle cx="1092.3" cy="2106.2" r="6.4"/><circle cx="1131.5" cy="2108.3" r="6.4"/><circle cx="1155.2" cy="2103.5" r="6.4"/><circle cx="1160.0" cy="2105.4" r="6.4"/><circle cx="942.9" cy="2125.5" r="6.4"/><circle cx="968.7" cy="2126.3" r="6.4"/><circle cx="980.0" cy="2125.0" r="6.4"/><circle cx="1036.4" cy="2125.8" r="6.4"/><circle cx="1047.7" cy="2127.7" r="6.4"/><circle cx="1055.2" cy="2123.6" r="6.4"/><circle cx="1065.4" cy="2119.6" r="6.4"/><circle cx="1068.7" cy="2131.2" r="6.4"/><circle cx="1123.8" cy="2135.7" r="6.4"/><circle cx="1134.8" cy="2130.4" r="6.4"/><circle cx="1141.2" cy="2131.2" r="6.4"/><circle cx="1014.9" cy="2133.9" r="6.4"/><circle cx="1003.6" cy="2146.5" r="6.4"/><circle cx="1023.5" cy="2145.7" r="6.4"/><circle cx="1028.4" cy="2143.8" r="6.4"/><circle cx="1020.3" cy="2157.8" r="6.4"/><circle cx="1074.0" cy="2148.4" r="6.4"/><circle cx="970.6" cy="2160.5" r="6.4"/><circle cx="1129.4" cy="2160.7" r="6.4"/><circle cx="1127.2" cy="2168.8" r="6.4"/><circle cx="1146.1" cy="2167.4" r="6.4"/><circle cx="1162.2" cy="2175.8" r="6.4"/><circle cx="1083.2" cy="2166.6" r="6.4"/><circle cx="1090.7" cy="2170.7" r="6.4"/><circle cx="1085.3" cy="2180.1" r="6.4"/><circle cx="1089.6" cy="2183.3" r="6.4"/><circle cx="1099.8" cy="2186.0" r="6.4"/><circle cx="1107.4" cy="2190.8" r="6.4"/><circle cx="1114.3" cy="2186.8" r="6.4"/><circle cx="1118.6" cy="2197.5" r="6.4"/><circle cx="1124.0" cy="2197.5" r="6.4"/><circle cx="1016.5" cy="2190.3" r="6.4"/><circle cx="1030.0" cy="2190.0" r="6.4"/><circle cx="1042.9" cy="2184.9" r="6.4"/><circle cx="1148.2" cy="2185.4" r="6.4"/><circle cx="1151.4" cy="2197.5" r="6.4"/><circle cx="1136.4" cy="2202.4" r="6.4"/><circle cx="1165.9" cy="2197.5" r="6.4"/><circle cx="1168.6" cy="2190.3" r="6.4"/><circle cx="1079.4" cy="2206.1" r="6.4"/><circle cx="1102.0" cy="2203.7" r="6.4"/><circle cx="1094.2" cy="2212.3" r="6.4"/><circle cx="1120.3" cy="2212.3" r="6.4"/><circle cx="1017.6" cy="2212.9" r="6.4"/><circle cx="1022.4" cy="2219.3" r="6.4"/><circle cx="1033.7" cy="2212.3" r="6.4"/><circle cx="1164.3" cy="2214.5" r="6.4"/><circle cx="1171.3" cy="2223.1" r="6.4"/><circle cx="1109.0" cy="2221.7" r="6.4"/><circle cx="1104.1" cy="2228.4" r="6.4"/><circle cx="1133.2" cy="2231.1" r="6.4"/><circle cx="1143.9" cy="2228.4" r="6.4"/><circle cx="1142.3" cy="2234.9" r="6.4"/><circle cx="1116.5" cy="2240.8" r="6.4"/><circle cx="1031.0" cy="2238.7" r="6.4"/><circle cx="1170.8" cy="2237.8" r="6.4"/><circle cx="1098.2" cy="2254.5" r="6.4"/><circle cx="1125.6" cy="2258.5" r="6.4"/><circle cx="1111.1" cy="2266.1" r="6.4"/><circle cx="1153.0" cy="2252.1" r="6.4"/><circle cx="1149.3" cy="2256.9" r="6.4"/><circle cx="1156.8" cy="2269.3" r="6.4"/><circle cx="1167.6" cy="2270.4" r="6.4"/><circle cx="1086.4" cy="2276.8" r="6.4"/><circle cx="1081.0" cy="2281.1" r="6.4"/><circle cx="1113.0" cy="2334.9" r="6.4"/><circle cx="1171.3" cy="2355.3" r="6.4"/><circle cx="1245.6" cy="1926.1" r="6.4"/><circle cx="1393.3" cy="1964.0" r="6.4"/><circle cx="1319.4" cy="1971.8" r="6.4"/><circle cx="1330.5" cy="1982.0" r="6.4"/><circle cx="1350.9" cy="1984.7" r="6.4"/><circle cx="1317.6" cy="2022.6" r="6.4"/><circle cx="1367.5" cy="2031.5" r="6.4"/><circle cx="1338.0" cy="2040.3" r="6.4"/><circle cx="1353.0" cy="2048.9" r="6.4"/><circle cx="1184.8" cy="2067.2" r="6.4"/><circle cx="1188.0" cy="2073.9" r="6.4"/><circle cx="1194.0" cy="2083.3" r="6.4"/><circle cx="1203.6" cy="2098.1" r="6.4"/><circle cx="1242.3" cy="2068.6" r="6.4"/><circle cx="1271.6" cy="2068.3" r="6.4"/><circle cx="1238.8" cy="2089.5" r="6.4"/><circle cx="1244.2" cy="2090.1" r="6.4"/><circle cx="1269.7" cy="2091.4" r="6.4"/><circle cx="1268.1" cy="2101.1" r="6.4"/><circle cx="1310.6" cy="2073.9" r="6.4"/><circle cx="1313.8" cy="2080.7" r="6.4"/><circle cx="1304.7" cy="2098.9" r="6.4"/><circle cx="1307.4" cy="2106.2" r="6.4"/><circle cx="1313.3" cy="2110.2" r="6.4"/><circle cx="1349.3" cy="2083.9" r="6.4"/><circle cx="1355.2" cy="2088.7" r="6.4"/><circle cx="1340.1" cy="2094.9" r="6.4"/><circle cx="1382.6" cy="2096.2" r="6.4"/><circle cx="1251.5" cy="2109.7" r="6.4"/><circle cx="1282.1" cy="2115.6" r="6.4"/><circle cx="1293.4" cy="2112.9" r="6.4"/><circle cx="1296.1" cy="2120.4" r="6.4"/><circle cx="1303.6" cy="2122.6" r="6.4"/><circle cx="1336.4" cy="2113.7" r="6.4"/><circle cx="1407.9" cy="2118.8" r="6.4"/><circle cx="1360.0" cy="2123.6" r="6.4"/><circle cx="1363.8" cy="2136.0" r="6.4"/><circle cx="1377.2" cy="2129.0" r="6.4"/><circle cx="1381.2" cy="2123.6" r="6.4"/><circle cx="1247.2" cy="2124.2" r="6.4"/><circle cx="1256.8" cy="2130.1" r="6.4"/><circle cx="1258.4" cy="2135.7" r="6.4"/><circle cx="1261.1" cy="2140.3" r="6.4"/><circle cx="1280.5" cy="2127.7" r="6.4"/><circle cx="1278.9" cy="2137.1" r="6.4"/><circle cx="1196.1" cy="2134.4" r="6.4"/><circle cx="1201.5" cy="2140.3" r="6.4"/><circle cx="1220.3" cy="2132.2" r="6.4"/><circle cx="1234.8" cy="2148.4" r="6.4"/><circle cx="1253.6" cy="2150.0" r="6.4"/><circle cx="1250.9" cy="2155.9" r="6.4"/><circle cx="1245.6" cy="2159.9" r="6.4"/><circle cx="1240.2" cy="2166.1" r="6.4"/><circle cx="1266.0" cy="2150.5" r="6.4"/><circle cx="1275.1" cy="2147.8" r="6.4"/><circle cx="1291.8" cy="2150.0" r="6.4"/><circle cx="1342.8" cy="2138.4" r="6.4"/><circle cx="1346.0" cy="2145.7" r="6.4"/><circle cx="1334.2" cy="2147.8" r="6.4"/><circle cx="1332.1" cy="2152.1" r="6.4"/><circle cx="1398.7" cy="2142.7" r="6.4"/><circle cx="1375.1" cy="2153.2" r="6.4"/><circle cx="1386.4" cy="2157.0" r="6.4"/><circle cx="1177.8" cy="2154.0" r="6.4"/><circle cx="1197.7" cy="2159.1" r="6.4"/><circle cx="1218.1" cy="2154.0" r="6.4"/><circle cx="1183.2" cy="2167.4" r="6.4"/><circle cx="1356.8" cy="2162.9" r="6.4"/><circle cx="1328.9" cy="2167.2" r="6.4"/><circle cx="1308.4" cy="2169.3" r="6.4"/><circle cx="1384.2" cy="2169.3" r="6.4"/><circle cx="1205.8" cy="2183.3" r="6.4"/><circle cx="1210.6" cy="2179.5" r="6.4"/><circle cx="1221.4" cy="2177.9" r="6.4"/><circle cx="1232.7" cy="2186.8" r="6.4"/><circle cx="1228.9" cy="2194.0" r="6.4"/><circle cx="1181.1" cy="2186.0" r="6.4"/><circle cx="1190.5" cy="2194.3" r="6.4"/><circle cx="1286.4" cy="2174.7" r="6.4"/><circle cx="1277.3" cy="2183.3" r="6.4"/><circle cx="1290.2" cy="2188.7" r="6.4"/><circle cx="1316.0" cy="2182.8" r="6.4"/><circle cx="1340.7" cy="2188.1" r="6.4"/><circle cx="1347.1" cy="2194.0" r="6.4"/><circle cx="1358.4" cy="2185.4" r="6.4"/><circle cx="1391.7" cy="2184.1" r="6.4"/><circle cx="1405.7" cy="2189.7" r="6.4"/><circle cx="1397.4" cy="2200.5" r="6.4"/><circle cx="1407.3" cy="2206.4" r="6.4"/><circle cx="1273.5" cy="2201.0" r="6.4"/><circle cx="1301.4" cy="2204.8" r="6.4"/><circle cx="1321.3" cy="2206.4" r="6.4"/><circle cx="1209.3" cy="2203.7" r="6.4"/><circle cx="1199.9" cy="2211.8" r="6.4"/><circle cx="1206.9" cy="2213.9" r="6.4"/><circle cx="1227.3" cy="2207.5" r="6.4"/><circle cx="1237.0" cy="2213.7" r="6.4"/><circle cx="1378.3" cy="2213.7" r="6.4"/><circle cx="1388.0" cy="2215.0" r="6.4"/><circle cx="1396.0" cy="2215.5" r="6.4"/><circle cx="1404.1" cy="2220.4" r="6.4"/><circle cx="1180.5" cy="2229.0" r="6.4"/><circle cx="1264.1" cy="2222.0" r="6.4"/><circle cx="1288.5" cy="2230.6" r="6.4"/><circle cx="1327.0" cy="2232.2" r="6.4"/><circle cx="1362.2" cy="2227.9" r="6.4"/><circle cx="1406.8" cy="2238.1" r="6.4"/><circle cx="1223.0" cy="2244.0" r="6.4"/><circle cx="1231.6" cy="2249.4" r="6.4"/><circle cx="1226.2" cy="2249.9" r="6.4"/><circle cx="1212.0" cy="2254.0" r="6.4"/><circle cx="1216.0" cy="2260.1" r="6.4"/><circle cx="1284.8" cy="2252.1" r="6.4"/><circle cx="1297.4" cy="2249.9" r="6.4"/><circle cx="1192.3" cy="2272.5" r="6.4"/><circle cx="1262.2" cy="2263.4" r="6.4"/><circle cx="1325.4" cy="2266.6" r="6.4"/><circle cx="1373.2" cy="2264.4" r="6.4"/><circle cx="1400.9" cy="2267.4" r="6.4"/><circle cx="1408.1" cy="2254.8" r="6.4"/><circle cx="1299.3" cy="2283.0" r="6.4"/><circle cx="1402.7" cy="2305.8" r="6.4"/><circle cx="1323.5" cy="2319.8" r="6.4"/><circle cx="1365.7" cy="2347.2" r="6.4"/><circle cx="1371.3" cy="2445.6" r="6.4"/><circle cx="1369.7" cy="2484.8" r="6.4"/><circle cx="1508.4" cy="1945.2" r="6.4"/><circle cx="1535.6" cy="1939.9" r="6.4"/><circle cx="1633.6" cy="1945.5" r="6.4"/><circle cx="1595.5" cy="1958.4" r="6.4"/><circle cx="1594.4" cy="1959.7" r="6.4"/><circle cx="1495.0" cy="1995.7" r="6.4"/><circle cx="1543.4" cy="1993.9" r="6.4"/><circle cx="1615.4" cy="1992.0" r="6.4"/><circle cx="1469.5" cy="2006.8" r="6.4"/><circle cx="1460.1" cy="2016.2" r="6.4"/><circle cx="1489.6" cy="2012.1" r="6.4"/><circle cx="1557.3" cy="2003.3" r="6.4"/><circle cx="1555.7" cy="2010.8" r="6.4"/><circle cx="1611.6" cy="2004.6" r="6.4"/><circle cx="1601.9" cy="2017.5" r="6.4"/><circle cx="1591.2" cy="2024.2" r="6.4"/><circle cx="1607.8" cy="2028.8" r="6.4"/><circle cx="1614.3" cy="2031.7" r="6.4"/><circle cx="1504.7" cy="2027.4" r="6.4"/><circle cx="1511.6" cy="2023.1" r="6.4"/><circle cx="1465.4" cy="2035.0" r="6.4"/><circle cx="1441.8" cy="2048.4" r="6.4"/><circle cx="1463.8" cy="2048.9" r="6.4"/><circle cx="1526.7" cy="2047.3" r="6.4"/><circle cx="1532.6" cy="2051.1" r="6.4"/><circle cx="1541.2" cy="2045.7" r="6.4"/><circle cx="1546.6" cy="2046.3" r="6.4"/><circle cx="1537.4" cy="2061.8" r="6.4"/><circle cx="1592.8" cy="2045.2" r="6.4"/><circle cx="1598.7" cy="2055.9" r="6.4"/><circle cx="1600.3" cy="2063.5" r="6.4"/><circle cx="1622.9" cy="2053.5" r="6.4"/><circle cx="1496.6" cy="2060.2" r="6.4"/><circle cx="1461.7" cy="2061.8" r="6.4"/><circle cx="1452.5" cy="2062.4" r="6.4"/><circle cx="1444.5" cy="2067.2" r="6.4"/><circle cx="1443.4" cy="2078.0" r="6.4"/><circle cx="1522.9" cy="2066.1" r="6.4"/><circle cx="1520.8" cy="2073.9" r="6.4"/><circle cx="1516.5" cy="2084.4" r="6.4"/><circle cx="1619.1" cy="2075.8" r="6.4"/><circle cx="1626.1" cy="2085.0" r="6.4"/><circle cx="1458.2" cy="2082.8" r="6.4"/><circle cx="1467.0" cy="2089.8" r="6.4"/><circle cx="1478.3" cy="2085.5" r="6.4"/><circle cx="1485.9" cy="2094.6" r="6.4"/><circle cx="1474.0" cy="2099.5" r="6.4"/><circle cx="1476.7" cy="2107.5" r="6.4"/><circle cx="1482.1" cy="2102.1" r="6.4"/><circle cx="1492.3" cy="2105.4" r="6.4"/><circle cx="1501.4" cy="2093.6" r="6.4"/><circle cx="1508.4" cy="2091.4" r="6.4"/><circle cx="1510.6" cy="2098.9" r="6.4"/><circle cx="1519.2" cy="2098.4" r="6.4"/><circle cx="1514.3" cy="2091.4" r="6.4"/><circle cx="1421.4" cy="2094.6" r="6.4"/><circle cx="1438.0" cy="2090.3" r="6.4"/><circle cx="1435.9" cy="2106.2" r="6.4"/><circle cx="1450.6" cy="2100.0" r="6.4"/><circle cx="1456.8" cy="2097.3" r="6.4"/><circle cx="1533.1" cy="2107.5" r="6.4"/><circle cx="1528.8" cy="2114.2" r="6.4"/><circle cx="1524.5" cy="2122.8" r="6.4"/><circle cx="1559.5" cy="2117.5" r="6.4"/><circle cx="1571.3" cy="2120.4" r="6.4"/><circle cx="1572.4" cy="2130.6" r="6.4"/><circle cx="1583.7" cy="2109.7" r="6.4"/><circle cx="1585.8" cy="2122.3" r="6.4"/><circle cx="1582.6" cy="2130.4" r="6.4"/><circle cx="1589.6" cy="2130.6" r="6.4"/><circle cx="1417.6" cy="2127.7" r="6.4"/><circle cx="1470.8" cy="2128.5" r="6.4"/><circle cx="1480.2" cy="2123.1" r="6.4"/><circle cx="1546.6" cy="2128.5" r="6.4"/><circle cx="1439.6" cy="2141.1" r="6.4"/><circle cx="1487.5" cy="2143.0" r="6.4"/><circle cx="1499.0" cy="2144.6" r="6.4"/><circle cx="1528.3" cy="2141.4" r="6.4"/><circle cx="1628.3" cy="2149.2" r="6.4"/><circle cx="1606.2" cy="2153.2" r="6.4"/><circle cx="1615.9" cy="2159.1" r="6.4"/><circle cx="1624.0" cy="2160.7" r="6.4"/><circle cx="1632.0" cy="2162.6" r="6.4"/><circle cx="1423.0" cy="2164.0" r="6.4"/><circle cx="1447.2" cy="2160.7" r="6.4"/><circle cx="1449.3" cy="2166.6" r="6.4"/><circle cx="1454.7" cy="2177.9" r="6.4"/><circle cx="1419.2" cy="2177.4" r="6.4"/><circle cx="1539.6" cy="2161.3" r="6.4"/><circle cx="1548.7" cy="2166.1" r="6.4"/><circle cx="1550.9" cy="2170.4" r="6.4"/><circle cx="1565.4" cy="2163.4" r="6.4"/><circle cx="1579.9" cy="2165.6" r="6.4"/><circle cx="1587.4" cy="2169.3" r="6.4"/><circle cx="1575.6" cy="2177.4" r="6.4"/><circle cx="1574.0" cy="2185.4" r="6.4"/><circle cx="1554.1" cy="2184.9" r="6.4"/><circle cx="1500.9" cy="2168.3" r="6.4"/><circle cx="1609.5" cy="2174.7" r="6.4"/><circle cx="1620.7" cy="2175.8" r="6.4"/><circle cx="1639.0" cy="2180.1" r="6.4"/><circle cx="1604.1" cy="2192.4" r="6.4"/><circle cx="1629.9" cy="2193.0" r="6.4"/><circle cx="1637.4" cy="2200.5" r="6.4"/><circle cx="1644.1" cy="2193.5" r="6.4"/><circle cx="1416.5" cy="2204.8" r="6.4"/><circle cx="1425.1" cy="2201.6" r="6.4"/><circle cx="1428.3" cy="2193.0" r="6.4"/><circle cx="1433.2" cy="2198.9" r="6.4"/><circle cx="1473.0" cy="2197.8" r="6.4"/><circle cx="1434.3" cy="2215.0" r="6.4"/><circle cx="1426.7" cy="2230.6" r="6.4"/><circle cx="1634.7" cy="2217.7" r="6.4"/><circle cx="1640.1" cy="2225.8" r="6.4"/><circle cx="1568.6" cy="2251.6" r="6.4"/><circle cx="1578.3" cy="2247.3" r="6.4"/><circle cx="1644.1" cy="2252.1" r="6.4"/><circle cx="1552.5" cy="2274.1" r="6.4"/><circle cx="1562.2" cy="2284.9" r="6.4"/><circle cx="1430.5" cy="2297.2" r="6.4"/><circle cx="1484.2" cy="2300.5" r="6.4"/><circle cx="1642.2" cy="2344.0" r="6.4"/><circle cx="1641.2" cy="2352.0" r="6.4"/><circle cx="1567.5" cy="2382.9" r="6.4"/><circle cx="1720.5" cy="1950.9" r="6.4"/><circle cx="1716.7" cy="1976.4" r="6.4"/><circle cx="1681.5" cy="1984.7" r="6.4"/><circle cx="1702.0" cy="2015.4" r="6.4"/><circle cx="1689.1" cy="2049.5" r="6.4"/><circle cx="1707.3" cy="2049.5" r="6.4"/><circle cx="1843.8" cy="2051.1" r="6.4"/><circle cx="1775.9" cy="2061.0" r="6.4"/><circle cx="1761.1" cy="2076.4" r="6.4"/><circle cx="1781.5" cy="2082.3" r="6.4"/><circle cx="1713.3" cy="2071.2" r="6.4"/><circle cx="1665.2" cy="2091.4" r="6.4"/><circle cx="1676.2" cy="2086.8" r="6.4"/><circle cx="1692.8" cy="2082.8" r="6.4"/><circle cx="1691.2" cy="2088.7" r="6.4"/><circle cx="1654.1" cy="2102.7" r="6.4"/><circle cx="1709.5" cy="2100.5" r="6.4"/><circle cx="1715.4" cy="2099.5" r="6.4"/><circle cx="1720.8" cy="2095.7" r="6.4"/><circle cx="1725.1" cy="2092.7" r="6.4"/><circle cx="1733.7" cy="2091.4" r="6.4"/><circle cx="1694.4" cy="2107.5" r="6.4"/><circle cx="1779.4" cy="2109.4" r="6.4"/><circle cx="1744.4" cy="2120.4" r="6.4"/><circle cx="1748.2" cy="2127.7" r="6.4"/><circle cx="1762.7" cy="2119.1" r="6.4"/><circle cx="1849.8" cy="2123.6" r="6.4"/><circle cx="1812.7" cy="2139.0" r="6.4"/><circle cx="1705.7" cy="2129.8" r="6.4"/><circle cx="1697.7" cy="2137.1" r="6.4"/><circle cx="1704.7" cy="2141.1" r="6.4"/><circle cx="1700.1" cy="2149.2" r="6.4"/><circle cx="1698.2" cy="2157.2" r="6.4"/><circle cx="1667.0" cy="2134.9" r="6.4"/><circle cx="1669.7" cy="2144.6" r="6.4"/><circle cx="1679.9" cy="2143.0" r="6.4"/><circle cx="1685.8" cy="2139.8" r="6.4"/><circle cx="1652.0" cy="2148.4" r="6.4"/><circle cx="1725.6" cy="2132.8" r="6.4"/><circle cx="1729.4" cy="2145.7" r="6.4"/><circle cx="1739.0" cy="2145.7" r="6.4"/><circle cx="1731.5" cy="2157.2" r="6.4"/><circle cx="1742.3" cy="2161.3" r="6.4"/><circle cx="1747.1" cy="2153.2" r="6.4"/><circle cx="1752.5" cy="2158.6" r="6.4"/><circle cx="1757.9" cy="2168.0" r="6.4"/><circle cx="1751.9" cy="2176.3" r="6.4"/><circle cx="1755.2" cy="2138.7" r="6.4"/><circle cx="1763.2" cy="2137.1" r="6.4"/><circle cx="1772.4" cy="2130.6" r="6.4"/><circle cx="1765.9" cy="2145.1" r="6.4"/><circle cx="1760.0" cy="2150.5" r="6.4"/><circle cx="1768.6" cy="2157.2" r="6.4"/><circle cx="1770.2" cy="2171.5" r="6.4"/><circle cx="1778.3" cy="2141.1" r="6.4"/><circle cx="1787.4" cy="2145.7" r="6.4"/><circle cx="1782.6" cy="2163.4" r="6.4"/><circle cx="1789.6" cy="2170.7" r="6.4"/><circle cx="1687.5" cy="2154.3" r="6.4"/><circle cx="1677.8" cy="2159.9" r="6.4"/><circle cx="1711.1" cy="2153.7" r="6.4"/><circle cx="1840.6" cy="2158.6" r="6.4"/><circle cx="1851.4" cy="2164.0" r="6.4"/><circle cx="1825.6" cy="2168.5" r="6.4"/><circle cx="1836.3" cy="2173.6" r="6.4"/><circle cx="1805.7" cy="2174.2" r="6.4"/><circle cx="1661.1" cy="2173.4" r="6.4"/><circle cx="1672.4" cy="2183.3" r="6.4"/><circle cx="1683.7" cy="2187.1" r="6.4"/><circle cx="1823.7" cy="2182.2" r="6.4"/><circle cx="1814.3" cy="2186.5" r="6.4"/><circle cx="1649.8" cy="2194.9" r="6.4"/><circle cx="1669.2" cy="2196.2" r="6.4"/><circle cx="1659.5" cy="2203.7" r="6.4"/><circle cx="1674.0" cy="2205.9" r="6.4"/><circle cx="1735.3" cy="2190.8" r="6.4"/><circle cx="1774.0" cy="2202.1" r="6.4"/><circle cx="1784.7" cy="2207.5" r="6.4"/><circle cx="1796.8" cy="2200.0" r="6.4"/><circle cx="1800.9" cy="2197.5" r="6.4"/><circle cx="1810.0" cy="2200.2" r="6.4"/><circle cx="1808.9" cy="2205.6" r="6.4"/><circle cx="1827.7" cy="2201.0" r="6.4"/><circle cx="1833.6" cy="2199.4" r="6.4"/><circle cx="1834.7" cy="2209.6" r="6.4"/><circle cx="1831.5" cy="2216.4" r="6.4"/><circle cx="1838.5" cy="2223.9" r="6.4"/><circle cx="1847.9" cy="2221.5" r="6.4"/><circle cx="1663.3" cy="2218.2" r="6.4"/><circle cx="1722.4" cy="2219.6" r="6.4"/><circle cx="1736.9" cy="2219.8" r="6.4"/><circle cx="1727.8" cy="2234.1" r="6.4"/><circle cx="1806.8" cy="2221.2" r="6.4"/><circle cx="1817.0" cy="2225.8" r="6.4"/><circle cx="1820.2" cy="2229.5" r="6.4"/><circle cx="1846.0" cy="2238.1" r="6.4"/><circle cx="1794.9" cy="2247.3" r="6.4"/><circle cx="1803.5" cy="2245.9" r="6.4"/><circle cx="1801.4" cy="2254.8" r="6.4"/><circle cx="1822.3" cy="2247.3" r="6.4"/><circle cx="1790.6" cy="2260.7" r="6.4"/><circle cx="1798.2" cy="2266.1" r="6.4"/><circle cx="1829.3" cy="2261.2" r="6.4"/><circle cx="1842.2" cy="2274.7" r="6.4"/><circle cx="1657.4" cy="2255.3" r="6.4"/><circle cx="1655.7" cy="2277.3" r="6.4"/><circle cx="1792.3" cy="2330.8" r="6.4"/></g>
<path d="M258.0 1857V1841M258.0 2501V2517M302.3 1857V1850M302.3 2501V2508M346.6 1857V1850M346.6 2501V2508M391.0 1857V1841M391.0 2501V2517M435.3 1857V1850M435.3 2501V2508M479.6 1857V1850M479.6 2501V2508M523.9 1857V1841M523.9 2501V2517M568.2 1857V1850M568.2 2501V2508M612.6 1857V1850M612.6 2501V2508M656.9 1857V1841M656.9 2501V2517M701.2 1857V1850M701.2 2501V2508M745.5 1857V1850M745.5 2501V2508M789.8 1857V1841M789.8 2501V2517M834.2 1857V1850M834.2 2501V2508M878.5 1857V1850M878.5 2501V2508M922.8 1857V1841M922.8 2501V2517M967.1 1857V1850M967.1 2501V2508M1011.4 1857V1850M1011.4 2501V2508M1055.8 1857V1841M1055.8 2501V2517M1100.1 1857V1850M1100.1 2501V2508M1144.4 1857V1850M1144.4 2501V2508M1188.7 1857V1841M1188.7 2501V2517M1233.0 1857V1850M1233.0 2501V2508M1277.4 1857V1850M1277.4 2501V2508M1321.7 1857V1841M1321.7 2501V2517M1366.0 1857V1850M1366.0 2501V2508M1410.3 1857V1850M1410.3 2501V2508M1454.6 1857V1841M1454.6 2501V2517M1499.0 1857V1850M1499.0 2501V2508M1543.3 1857V1850M1543.3 2501V2508M1587.6 1857V1841M1587.6 2501V2517M1631.9 1857V1850M1631.9 2501V2508M1676.2 1857V1850M1676.2 2501V2508M1720.6 1857V1841M1720.6 2501V2517M1764.9 1857V1850M1764.9 2501V2508M1809.2 1857V1850M1809.2 2501V2508M1853.5 1857V1841M1853.5 2501V2517M223 1942.3H207M1887 1942.3H1903M223 2057.0H207M1887 2057.0H1903M223 2171.7H207M1887 2171.7H1903M223 2286.4H207M1887 2286.4H1903M223 2401.1H207M1887 2401.1H1903" stroke="#000" stroke-width="2" fill="none"/>
<rect x="226" y="1860" width="1657.5" height="638.0" fill="none" stroke="#000" stroke-width="6"/>
<text transform="translate(245.96 2564.90) scale(1 1.06)" font-size="43.3" font-weight="bold">0</text>
<text transform="translate(378.92 2564.90) scale(1 1.06)" font-size="43.3" font-weight="bold">6</text>
<path transform="translate(499.84 2564.90) scale(43.3 -45.898)" d="M0.236 0L0.378 0L0.378 0.65L0.27 0.65C0.252 0.588 0.19 0.545 0.072 0.541L0.072 0.45L0.236 0.45Z"/><text transform="translate(523.92 2564.90) scale(1 1.06)" font-size="43.3" font-weight="bold">2</text>
<path transform="translate(632.80 2564.90) scale(43.3 -45.898)" d="M0.236 0L0.378 0L0.378 0.65L0.27 0.65C0.252 0.588 0.19 0.545 0.072 0.541L0.072 0.45L0.236 0.45Z"/><text transform="translate(656.88 2564.90) scale(1 1.06)" font-size="43.3" font-weight="bold">8</text>
<text transform="translate(765.76 2564.90) scale(1 1.06)" font-size="43.3" font-weight="bold">24</text>
<text transform="translate(898.72 2564.90) scale(1 1.06)" font-size="43.3" font-weight="bold">30</text>
<text transform="translate(1031.68 2564.90) scale(1 1.06)" font-size="43.3" font-weight="bold">36</text>
<text transform="translate(1164.64 2564.90) scale(1 1.06)" font-size="43.3" font-weight="bold">42</text>
<text transform="translate(1297.60 2564.90) scale(1 1.06)" font-size="43.3" font-weight="bold">48</text>
<text transform="translate(1430.56 2564.90) scale(1 1.06)" font-size="43.3" font-weight="bold">54</text>
<text transform="translate(1563.52 2564.90) scale(1 1.06)" font-size="43.3" font-weight="bold">60</text>
<text transform="translate(1696.48 2564.90) scale(1 1.06)" font-size="43.3" font-weight="bold">66</text>
<text transform="translate(1829.44 2564.90) scale(1 1.06)" font-size="43.3" font-weight="bold">72</text>
<text transform="translate(142.44 1958.50) scale(1 1.06)" font-size="43.3" font-weight="bold">20</text>
<text transform="translate(166.52 2073.20) scale(1 1.06)" font-size="43.3" font-weight="bold">0</text>
<text transform="translate(142.44 2187.90) scale(1 1.06)" font-size="43.3" font-weight="bold">20</text>
<rect x="120.8" y="2175.3" width="21.2" height="4.9"/>
<text transform="translate(142.44 2302.60) scale(1 1.06)" font-size="43.3" font-weight="bold">40</text>
<rect x="120.8" y="2290.0" width="21.2" height="4.9"/>
<text transform="translate(142.44 2417.30) scale(1 1.06)" font-size="43.3" font-weight="bold">60</text>
<rect x="120.8" y="2404.7" width="21.2" height="4.9"/>
<text transform="translate(90 2179.0) rotate(-90) scale(1 1.06)" font-size="42.5" text-anchor="middle">Up (mm)</text>
<text transform="translate(1054 2623.1) scale(1 1.06)" font-size="42.5" text-anchor="middle">Time (hours since beginning of first day UTC)</text>
<rect x="226" y="2727" width="1657.5" height="153" fill="none" stroke="#000" stroke-width="6"/>
<text transform="translate(1054.5 2766.1) scale(1 1.06)" font-size="42.6" font-weight="bold" text-anchor="middle">Processed Using JPL Rapid Orbits</text>
<text transform="translate(1054.5 2806.3) scale(1 1.06)" font-size="42.75" font-weight="bold" text-anchor="middle">by the Nevada Geodetic Laboratory.</text>
<text transform="translate(1232.9 2846.6) scale(1 1.06)" font-size="42.72" font-weight="bold" text-anchor="end">Plotted on 2026-Jan-</text>
<path transform="translate(1232.90 2846.6) scale(42.72 -45.283)" d="M0.236 0L0.378 0L0.378 0.65L0.27 0.65C0.252 0.588 0.19 0.545 0.072 0.541L0.072 0.45L0.236 0.45Z"/>
<path transform="translate(1256.66 2846.6) scale(42.72 -45.283)" d="M0.236 0L0.378 0L0.378 0.65L0.27 0.65C0.252 0.588 0.19 0.545 0.072 0.541L0.072 0.45L0.236 0.45Z"/>
<text transform="translate(1280.41 2846.6) scale(1 1.06)" font-size="42.72" font-weight="bold">.</text>
</svg></body></html>
